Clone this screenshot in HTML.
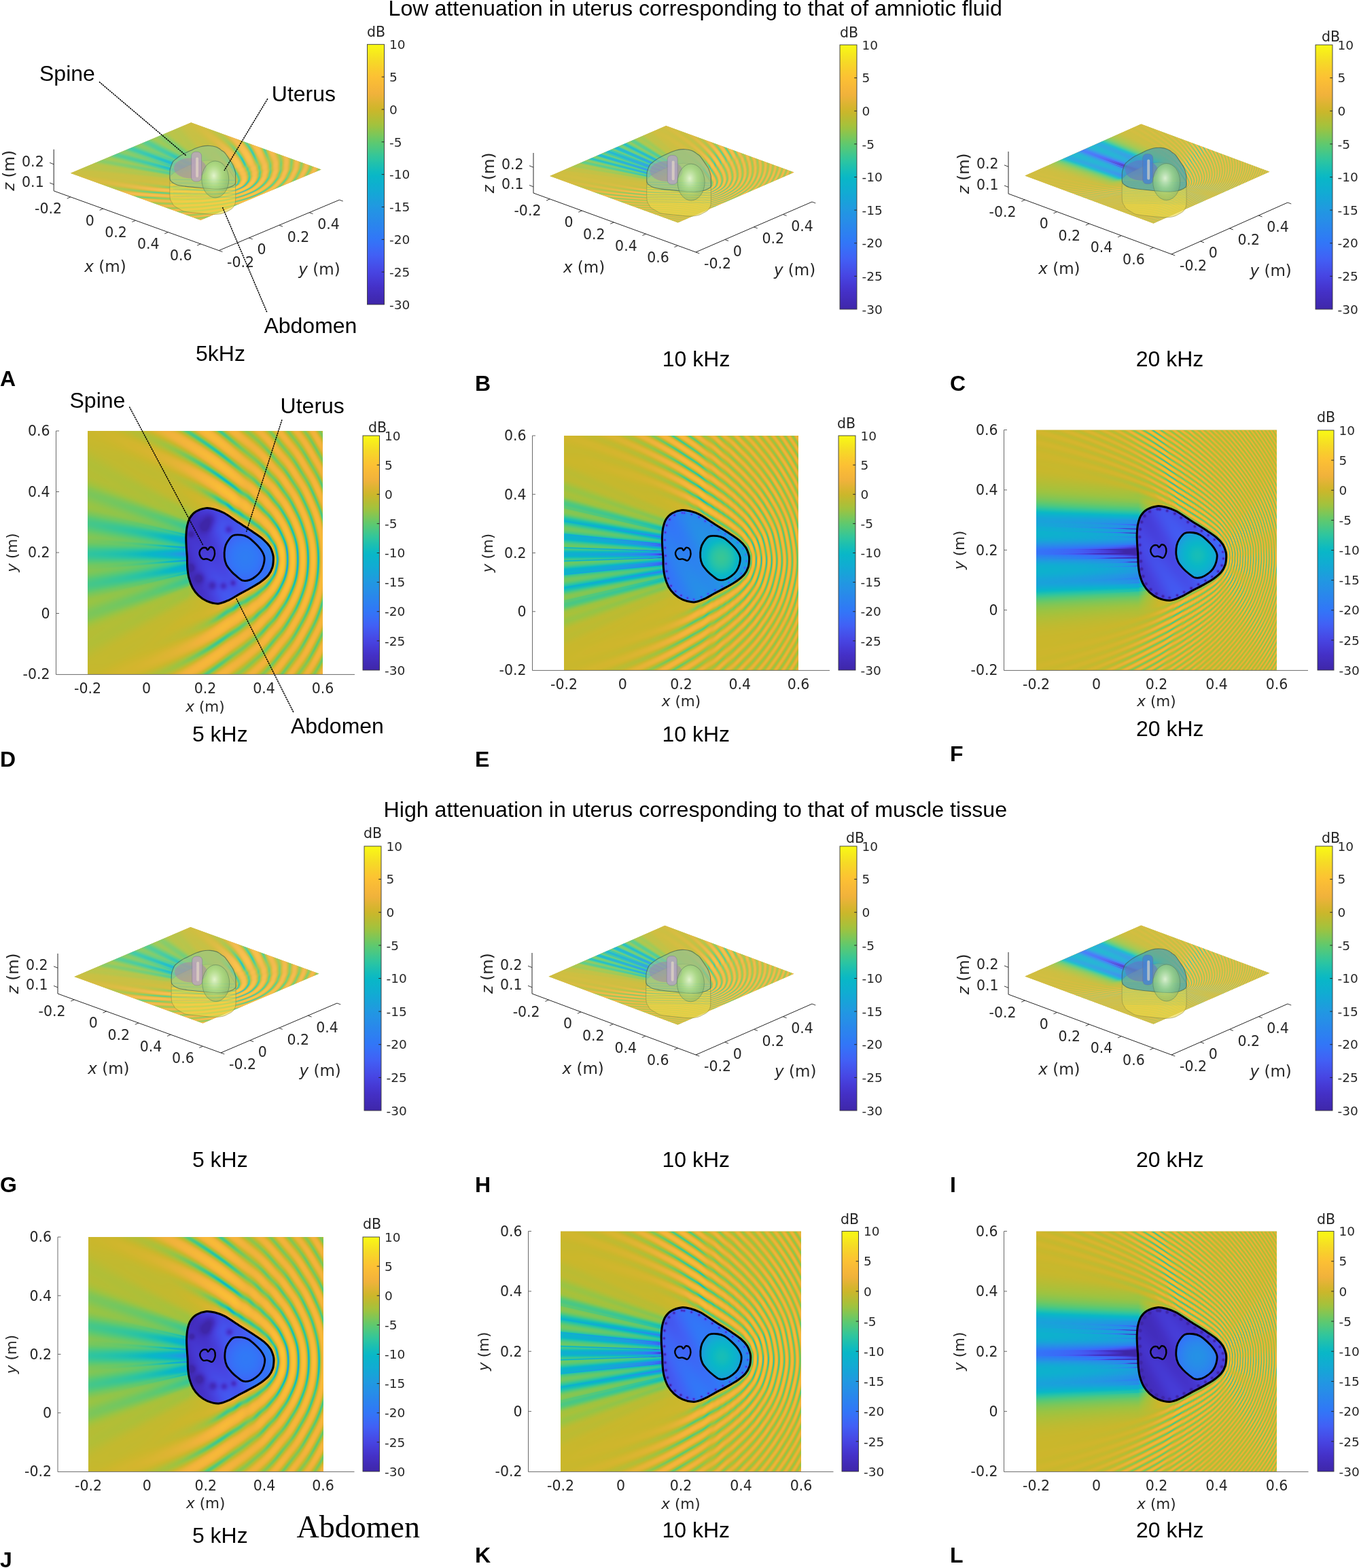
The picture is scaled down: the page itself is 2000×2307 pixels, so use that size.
<!DOCTYPE html>
<html><head><meta charset="utf-8"><title>Figure</title>
<style>
html,body{margin:0;padding:0;background:#fff;}
#wrap{position:relative;width:2000px;height:2307px;overflow:hidden;background:#fff;}
#wrap svg,#wrap canvas{position:absolute;left:0;top:0;}
</style></head><body><div id="wrap">
<svg width="2000" height="2307" viewBox="0 0 2000 2307"><rect x="129.0" y="634.0" width="346.0" height="358.0" fill="#ccb640"/><polygon points="280.4,750.3 129.0,714.5 129.0,902.5 280.4,875.6" fill="#3fb6b0" opacity="0.8"/><path d="M302.99,747.62C307.48,747.07 310.88,747.99 315.36,749.19C319.85,750.38 323.88,751.46 329.90,754.78C335.91,758.10 344.20,764.33 351.43,769.10C358.67,773.87 367.25,779.27 373.32,783.42C379.39,787.57 383.86,790.51 387.85,794.03C391.84,797.54 394.97,800.87 397.28,804.50C399.59,808.13 400.84,812.67 401.69,815.82C402.54,818.97 402.51,820.23 402.38,823.38C402.25,826.53 402.13,830.94 400.91,834.70C399.69,838.47 397.87,842.48 395.07,845.98C392.28,849.49 388.38,852.60 384.13,855.74C379.89,858.87 375.05,861.63 369.60,864.78C364.15,867.92 356.86,871.62 351.43,874.62C346.01,877.63 342.08,880.56 337.03,882.81C331.99,885.06 326.59,887.87 321.16,888.14C315.72,888.40 309.27,886.43 304.42,884.42C299.58,882.41 295.61,879.37 292.10,876.10C288.59,872.82 285.73,869.17 283.36,864.78C280.99,860.38 279.14,854.75 277.87,849.74C276.60,844.73 276.17,839.72 275.75,834.70C275.32,829.68 275.57,824.66 275.31,819.62C275.06,814.59 274.48,809.53 274.23,804.50C273.99,799.46 273.66,794.44 273.84,789.42C274.02,784.40 274.35,779.01 275.31,774.38C276.28,769.75 277.45,765.27 279.64,761.63C281.83,757.98 284.57,754.83 288.46,752.50C292.36,750.16 298.51,748.17 302.99,747.62Z" fill="#3d55e0"/><path d="M342.70,787.98C346.09,786.34 351.39,786.81 355.02,787.18C358.66,787.54 361.22,788.30 364.50,790.18C367.78,792.06 371.43,795.31 374.70,798.46C377.98,801.60 381.75,805.53 384.13,809.06C386.51,812.59 388.36,815.99 388.98,819.62C389.60,823.26 388.77,827.34 387.85,830.86C386.93,834.37 385.38,837.81 383.44,840.70C381.50,843.59 378.89,846.05 376.22,848.17C373.54,850.30 370.56,852.45 367.39,853.45C364.23,854.46 360.37,855.09 357.23,854.21C354.09,853.33 351.33,850.43 348.54,848.17C345.75,845.92 343.05,843.59 340.49,840.70C337.93,837.81 334.88,834.37 333.18,830.86C331.48,827.34 330.64,823.76 330.29,819.62C329.93,815.48 330.33,809.79 331.06,806.02C331.80,802.25 332.76,800.03 334.70,797.02C336.64,794.02 339.31,789.63 342.70,787.98Z" fill="#2f8ef0"/><rect x="830.0" y="641.0" width="345.0" height="345.0" fill="#ccb640"/><polygon points="980.9,753.1 830.0,718.6 830.0,899.8 980.9,873.9" fill="#3fb6b0" opacity="0.8"/><path d="M1003.49,750.49C1007.96,749.96 1011.35,750.85 1015.83,752.00C1020.30,753.15 1024.32,754.20 1030.32,757.39C1036.31,760.59 1044.58,766.59 1051.79,771.19C1059.01,775.79 1067.56,780.99 1073.61,784.99C1079.66,789.00 1084.12,791.83 1088.10,795.21C1092.09,798.60 1095.20,801.81 1097.50,805.31C1099.80,808.81 1101.06,813.18 1101.90,816.22C1102.75,819.25 1102.72,820.47 1102.59,823.50C1102.46,826.54 1102.34,830.79 1101.13,834.42C1099.91,838.05 1098.09,841.90 1095.30,845.28C1092.52,848.66 1088.63,851.67 1084.39,854.68C1080.16,857.70 1075.34,860.36 1069.90,863.40C1064.47,866.43 1057.20,869.99 1051.79,872.88C1046.38,875.78 1042.46,878.60 1037.43,880.77C1032.40,882.95 1027.02,885.65 1021.60,885.91C1016.18,886.17 1009.75,884.26 1004.91,882.33C1000.08,880.39 996.12,877.46 992.62,874.31C989.12,871.15 986.28,867.63 983.91,863.40C981.55,859.16 979.70,853.74 978.44,848.91C977.17,844.08 976.75,839.25 976.32,834.42C975.90,829.58 976.14,824.73 975.89,819.88C975.64,815.03 975.06,810.16 974.81,805.31C974.57,800.45 974.25,795.61 974.43,790.77C974.61,785.94 974.93,780.75 975.89,776.28C976.86,771.82 978.02,767.51 980.20,763.99C982.39,760.48 985.12,757.44 989.00,755.19C992.88,752.95 999.02,751.03 1003.49,750.49Z" fill="#3d55e0"/><path d="M1043.08,789.39C1046.46,787.81 1051.75,788.26 1055.37,788.62C1058.99,788.97 1061.55,789.70 1064.82,791.51C1068.09,793.32 1071.73,796.45 1074.99,799.48C1078.26,802.52 1082.02,806.31 1084.39,809.70C1086.77,813.10 1088.61,816.38 1089.22,819.88C1089.84,823.38 1089.02,827.32 1088.10,830.71C1087.18,834.09 1085.64,837.41 1083.70,840.19C1081.77,842.98 1079.17,845.35 1076.50,847.40C1073.84,849.44 1070.86,851.51 1067.70,852.48C1064.55,853.46 1060.70,854.07 1057.57,853.22C1054.44,852.37 1051.68,849.57 1048.90,847.40C1046.12,845.23 1043.43,842.98 1040.88,840.19C1038.33,837.41 1035.29,834.09 1033.59,830.71C1031.90,827.32 1031.06,823.87 1030.70,819.88C1030.35,815.89 1030.75,810.40 1031.48,806.77C1032.21,803.14 1033.17,801.00 1035.10,798.10C1037.04,795.21 1039.70,790.97 1043.08,789.39Z" fill="#2f8ef0"/><rect x="1525.0" y="632.5" width="354.0" height="353.5" fill="#ccb640"/><polygon points="1679.9,747.4 1525.0,712.0 1525.0,897.6 1679.9,871.1" fill="#3fb6b0" opacity="0.8"/><path d="M1703.02,744.69C1707.61,744.15 1711.09,745.06 1715.67,746.24C1720.26,747.42 1724.39,748.48 1730.54,751.76C1736.69,755.04 1745.17,761.19 1752.58,765.90C1759.98,770.62 1768.76,775.94 1774.97,780.04C1781.18,784.14 1785.75,787.05 1789.84,790.51C1793.92,793.98 1797.12,797.27 1799.48,800.85C1801.84,804.44 1803.13,808.93 1804.00,812.03C1804.87,815.14 1804.84,816.39 1804.70,819.50C1804.57,822.61 1804.45,826.96 1803.20,830.68C1801.95,834.40 1800.09,838.35 1797.23,841.82C1794.36,845.28 1790.37,848.36 1786.03,851.45C1781.69,854.54 1776.74,857.27 1771.16,860.37C1765.59,863.48 1758.13,867.13 1752.58,870.10C1747.02,873.06 1743.00,875.96 1737.84,878.18C1732.68,880.41 1727.16,883.18 1721.60,883.44C1716.04,883.71 1709.43,881.75 1704.48,879.77C1699.52,877.79 1695.46,874.79 1691.87,871.55C1688.28,868.32 1685.35,864.71 1682.93,860.37C1680.50,856.04 1678.61,850.48 1677.31,845.53C1676.01,840.58 1675.58,835.64 1675.14,830.68C1674.71,825.72 1674.96,820.76 1674.70,815.79C1674.44,810.82 1673.84,805.83 1673.59,800.85C1673.34,795.88 1673.01,790.92 1673.19,785.96C1673.38,781.01 1673.71,775.69 1674.70,771.12C1675.69,766.54 1676.88,762.12 1679.12,758.52C1681.36,754.92 1684.17,751.81 1688.15,749.51C1692.13,747.20 1698.43,745.24 1703.02,744.69Z" fill="#3d55e0"/><path d="M1743.64,784.55C1747.11,782.93 1752.53,783.39 1756.25,783.75C1759.97,784.11 1762.59,784.86 1765.94,786.71C1769.30,788.57 1773.04,791.78 1776.38,794.89C1779.73,798.00 1783.60,801.88 1786.03,805.36C1788.46,808.84 1790.35,812.20 1790.99,815.79C1791.62,819.38 1790.78,823.41 1789.84,826.88C1788.89,830.35 1787.31,833.75 1785.32,836.60C1783.34,839.45 1780.67,841.88 1777.93,843.98C1775.20,846.08 1772.14,848.20 1768.91,849.20C1765.67,850.19 1761.72,850.82 1758.51,849.95C1755.29,849.08 1752.47,846.21 1749.61,843.98C1746.76,841.76 1744.00,839.45 1741.38,836.60C1738.76,833.75 1735.64,830.35 1733.90,826.88C1732.16,823.41 1731.30,819.88 1730.94,815.79C1730.58,811.70 1730.98,806.08 1731.74,802.36C1732.49,798.64 1733.47,796.44 1735.45,793.48C1737.44,790.51 1740.17,786.17 1743.64,784.55Z" fill="#2f8ef0"/><rect x="130.0" y="1820.0" width="345.5" height="345.0" fill="#ccb640"/><polygon points="281.2,1932.1 130.0,1897.6 130.0,2078.8 281.2,2052.9" fill="#3fb6b0" opacity="0.8"/><path d="M303.74,1929.49C308.22,1928.96 311.62,1929.85 316.09,1931.00C320.57,1932.15 324.60,1933.20 330.61,1936.39C336.61,1939.59 344.89,1945.59 352.11,1950.19C359.34,1954.79 367.91,1959.99 373.97,1963.99C380.03,1968.00 384.49,1970.83 388.48,1974.21C392.46,1977.60 395.59,1980.81 397.89,1984.31C400.20,1987.81 401.45,1992.18 402.30,1995.22C403.15,1998.25 403.12,1999.47 402.99,2002.50C402.86,2005.54 402.74,2009.79 401.52,2013.42C400.30,2017.05 398.48,2020.90 395.69,2024.28C392.90,2027.66 389.00,2030.67 384.76,2033.68C380.52,2036.70 375.69,2039.36 370.25,2042.40C364.81,2045.43 357.53,2048.99 352.11,2051.88C346.69,2054.78 342.77,2057.60 337.73,2059.78C332.69,2061.95 327.31,2064.65 321.88,2064.91C316.45,2065.17 310.01,2063.26 305.17,2061.33C300.33,2059.39 296.37,2056.46 292.86,2053.31C289.35,2050.15 286.50,2046.63 284.14,2042.40C281.77,2038.16 279.92,2032.74 278.65,2027.91C277.38,2023.08 276.96,2018.25 276.54,2013.42C276.11,2008.58 276.36,2003.73 276.10,1998.88C275.85,1994.03 275.27,1989.16 275.02,1984.31C274.78,1979.45 274.45,1974.61 274.63,1969.77C274.81,1964.94 275.14,1959.75 276.10,1955.28C277.07,1950.82 278.23,1946.51 280.42,1942.99C282.61,1939.48 285.35,1936.44 289.23,1934.19C293.12,1931.95 299.27,1930.03 303.74,1929.49Z" fill="#3d55e0"/><path d="M343.39,1968.39C346.77,1966.81 352.07,1967.26 355.70,1967.62C359.33,1967.97 361.88,1968.69 365.16,1970.51C368.43,1972.32 372.08,1975.45 375.35,1978.48C378.62,1981.52 382.39,1985.31 384.76,1988.70C387.14,1992.10 388.98,1995.38 389.60,1998.88C390.22,2002.38 389.40,2006.32 388.48,2009.71C387.56,2013.09 386.01,2016.41 384.07,2019.19C382.14,2021.98 379.53,2024.35 376.86,2026.40C374.19,2028.44 371.21,2030.51 368.05,2031.48C364.89,2032.46 361.04,2033.07 357.90,2032.22C354.76,2031.37 352.01,2028.57 349.22,2026.40C346.43,2024.23 343.74,2021.98 341.19,2019.19C338.63,2016.41 335.59,2013.09 333.89,2009.71C332.19,2006.32 331.35,2002.87 330.99,1998.88C330.64,1994.89 331.04,1989.40 331.77,1985.77C332.51,1982.14 333.46,1980.00 335.40,1977.10C337.34,1974.21 340.01,1969.97 343.39,1968.39Z" fill="#2f8ef0"/><rect x="825.0" y="1811.5" width="354.0" height="353.5" fill="#ccb640"/><polygon points="979.9,1926.4 825.0,1891.0 825.0,2076.6 979.9,2050.1" fill="#3fb6b0" opacity="0.8"/><path d="M1003.02,1923.69C1007.61,1923.15 1011.09,1924.06 1015.67,1925.24C1020.26,1926.42 1024.39,1927.48 1030.54,1930.76C1036.69,1934.04 1045.17,1940.19 1052.58,1944.90C1059.98,1949.62 1068.76,1954.94 1074.97,1959.04C1081.18,1963.14 1085.75,1966.05 1089.84,1969.51C1093.92,1972.98 1097.12,1976.27 1099.48,1979.85C1101.84,1983.44 1103.13,1987.93 1104.00,1991.03C1104.87,1994.14 1104.84,1995.39 1104.70,1998.50C1104.57,2001.61 1104.45,2005.96 1103.20,2009.68C1101.95,2013.40 1100.09,2017.35 1097.23,2020.82C1094.36,2024.28 1090.37,2027.36 1086.03,2030.45C1081.69,2033.54 1076.74,2036.27 1071.16,2039.37C1065.59,2042.48 1058.13,2046.13 1052.58,2049.10C1047.02,2052.06 1043.00,2054.96 1037.84,2057.18C1032.68,2059.41 1027.16,2062.18 1021.60,2062.44C1016.04,2062.71 1009.43,2060.75 1004.48,2058.77C999.52,2056.79 995.46,2053.79 991.87,2050.55C988.28,2047.32 985.35,2043.71 982.93,2039.37C980.50,2035.04 978.61,2029.48 977.31,2024.53C976.01,2019.58 975.58,2014.64 975.14,2009.68C974.71,2004.72 974.96,1999.76 974.70,1994.79C974.44,1989.82 973.84,1984.83 973.59,1979.85C973.34,1974.88 973.01,1969.92 973.19,1964.96C973.38,1960.01 973.71,1954.69 974.70,1950.12C975.69,1945.54 976.88,1941.12 979.12,1937.52C981.36,1933.92 984.17,1930.81 988.15,1928.51C992.13,1926.20 998.43,1924.24 1003.02,1923.69Z" fill="#3d55e0"/><path d="M1043.64,1963.55C1047.11,1961.93 1052.53,1962.39 1056.25,1962.75C1059.97,1963.11 1062.59,1963.86 1065.94,1965.71C1069.30,1967.57 1073.04,1970.78 1076.38,1973.89C1079.73,1977.00 1083.60,1980.88 1086.03,1984.36C1088.46,1987.84 1090.35,1991.20 1090.99,1994.79C1091.62,1998.38 1090.78,2002.41 1089.84,2005.88C1088.89,2009.35 1087.31,2012.75 1085.32,2015.60C1083.34,2018.45 1080.67,2020.88 1077.93,2022.98C1075.20,2025.08 1072.14,2027.20 1068.91,2028.20C1065.67,2029.19 1061.72,2029.82 1058.51,2028.95C1055.29,2028.08 1052.47,2025.21 1049.61,2022.98C1046.76,2020.76 1044.00,2018.45 1041.38,2015.60C1038.76,2012.75 1035.64,2009.35 1033.90,2005.88C1032.16,2002.41 1031.30,1998.88 1030.94,1994.79C1030.58,1990.70 1030.98,1985.08 1031.74,1981.36C1032.49,1977.64 1033.47,1975.44 1035.45,1972.48C1037.44,1969.51 1040.17,1965.17 1043.64,1963.55Z" fill="#2f8ef0"/><rect x="1525.0" y="1811.5" width="354.0" height="353.5" fill="#ccb640"/><polygon points="1679.9,1926.4 1525.0,1891.0 1525.0,2076.6 1679.9,2050.1" fill="#3fb6b0" opacity="0.8"/><path d="M1703.02,1923.69C1707.61,1923.15 1711.09,1924.06 1715.67,1925.24C1720.26,1926.42 1724.39,1927.48 1730.54,1930.76C1736.69,1934.04 1745.17,1940.19 1752.58,1944.90C1759.98,1949.62 1768.76,1954.94 1774.97,1959.04C1781.18,1963.14 1785.75,1966.05 1789.84,1969.51C1793.92,1972.98 1797.12,1976.27 1799.48,1979.85C1801.84,1983.44 1803.13,1987.93 1804.00,1991.03C1804.87,1994.14 1804.84,1995.39 1804.70,1998.50C1804.57,2001.61 1804.45,2005.96 1803.20,2009.68C1801.95,2013.40 1800.09,2017.35 1797.23,2020.82C1794.36,2024.28 1790.37,2027.36 1786.03,2030.45C1781.69,2033.54 1776.74,2036.27 1771.16,2039.37C1765.59,2042.48 1758.13,2046.13 1752.58,2049.10C1747.02,2052.06 1743.00,2054.96 1737.84,2057.18C1732.68,2059.41 1727.16,2062.18 1721.60,2062.44C1716.04,2062.71 1709.43,2060.75 1704.48,2058.77C1699.52,2056.79 1695.46,2053.79 1691.87,2050.55C1688.28,2047.32 1685.35,2043.71 1682.93,2039.37C1680.50,2035.04 1678.61,2029.48 1677.31,2024.53C1676.01,2019.58 1675.58,2014.64 1675.14,2009.68C1674.71,2004.72 1674.96,1999.76 1674.70,1994.79C1674.44,1989.82 1673.84,1984.83 1673.59,1979.85C1673.34,1974.88 1673.01,1969.92 1673.19,1964.96C1673.38,1960.01 1673.71,1954.69 1674.70,1950.12C1675.69,1945.54 1676.88,1941.12 1679.12,1937.52C1681.36,1933.92 1684.17,1930.81 1688.15,1928.51C1692.13,1926.20 1698.43,1924.24 1703.02,1923.69Z" fill="#3d55e0"/><path d="M1743.64,1963.55C1747.11,1961.93 1752.53,1962.39 1756.25,1962.75C1759.97,1963.11 1762.59,1963.86 1765.94,1965.71C1769.30,1967.57 1773.04,1970.78 1776.38,1973.89C1779.73,1977.00 1783.60,1980.88 1786.03,1984.36C1788.46,1987.84 1790.35,1991.20 1790.99,1994.79C1791.62,1998.38 1790.78,2002.41 1789.84,2005.88C1788.89,2009.35 1787.31,2012.75 1785.32,2015.60C1783.34,2018.45 1780.67,2020.88 1777.93,2022.98C1775.20,2025.08 1772.14,2027.20 1768.91,2028.20C1765.67,2029.19 1761.72,2029.82 1758.51,2028.95C1755.29,2028.08 1752.47,2025.21 1749.61,2022.98C1746.76,2020.76 1744.00,2018.45 1741.38,2015.60C1738.76,2012.75 1735.64,2009.35 1733.90,2005.88C1732.16,2002.41 1731.30,1998.88 1730.94,1994.79C1730.58,1990.70 1730.98,1985.08 1731.74,1981.36C1732.49,1977.64 1733.47,1975.44 1735.45,1972.48C1737.44,1969.51 1740.17,1965.17 1743.64,1963.55Z" fill="#2f8ef0"/><polygon points="103.8,254.8 295.3,323.9 472.7,249.4 281.2,180.3" fill="#d2bf55"/><polygon points="809.2,259.0 997.6,327.6 1168.6,253.6 980.2,185.0" fill="#d2bf55"/><polygon points="1508.3,258.5 1697.5,328.7 1868.5,252.7 1679.3,182.5" fill="#d2bf55"/><polygon points="109.3,1437.0 298.5,1505.6 469.5,1432.6 280.4,1364.0" fill="#d2bf55"/><polygon points="807.5,1436.8 997.4,1507.7 1168.4,1432.7 978.5,1361.8" fill="#d2bf55"/><polygon points="1508.3,1436.5 1697.5,1506.7 1868.5,1431.7 1679.3,1361.5" fill="#d2bf55"/></svg>
<canvas id="cv" width="2000" height="2307"></canvas>
<svg width="2000" height="2307" viewBox="0 0 2000 2307" xmlns="http://www.w3.org/2000/svg">
<defs><linearGradient id="parula" x1="0" y1="0" x2="0" y2="1"><stop offset="0.0000" stop-color="#f8fa14"/><stop offset="0.0159" stop-color="#f8f219"/><stop offset="0.0317" stop-color="#f7ea1d"/><stop offset="0.0476" stop-color="#f6e222"/><stop offset="0.0635" stop-color="#f6da26"/><stop offset="0.0794" stop-color="#f8d32a"/><stop offset="0.0952" stop-color="#f9cc2d"/><stop offset="0.1111" stop-color="#fbc631"/><stop offset="0.1270" stop-color="#fcc034"/><stop offset="0.1429" stop-color="#f9bc36"/><stop offset="0.1587" stop-color="#f7b838"/><stop offset="0.1746" stop-color="#f4b53a"/><stop offset="0.1905" stop-color="#f0b23b"/><stop offset="0.2063" stop-color="#e7b337"/><stop offset="0.2222" stop-color="#ddb432"/><stop offset="0.2381" stop-color="#d4b52d"/><stop offset="0.2540" stop-color="#cab72b"/><stop offset="0.2698" stop-color="#bfba30"/><stop offset="0.2857" stop-color="#b3bd35"/><stop offset="0.3016" stop-color="#a8c13a"/><stop offset="0.3175" stop-color="#9bc342"/><stop offset="0.3333" stop-color="#8ac54e"/><stop offset="0.3492" stop-color="#7ac75a"/><stop offset="0.3651" stop-color="#69c866"/><stop offset="0.3810" stop-color="#5ac973"/><stop offset="0.3968" stop-color="#4ec87f"/><stop offset="0.4127" stop-color="#41c78c"/><stop offset="0.4286" stop-color="#34c699"/><stop offset="0.4444" stop-color="#29c4a4"/><stop offset="0.4603" stop-color="#1fc0ae"/><stop offset="0.4762" stop-color="#16bdb8"/><stop offset="0.4921" stop-color="#0dbac1"/><stop offset="0.5079" stop-color="#09b6c8"/><stop offset="0.5238" stop-color="#0cb3cb"/><stop offset="0.5397" stop-color="#0eafcf"/><stop offset="0.5556" stop-color="#11acd2"/><stop offset="0.5714" stop-color="#14a7d6"/><stop offset="0.5873" stop-color="#18a3d9"/><stop offset="0.6032" stop-color="#1c9edc"/><stop offset="0.6190" stop-color="#209ae0"/><stop offset="0.6349" stop-color="#2295e3"/><stop offset="0.6508" stop-color="#2591e6"/><stop offset="0.6667" stop-color="#278de8"/><stop offset="0.6825" stop-color="#2988eb"/><stop offset="0.6984" stop-color="#2b84ee"/><stop offset="0.7143" stop-color="#2d80f1"/><stop offset="0.7302" stop-color="#2f7bf4"/><stop offset="0.7460" stop-color="#3177f7"/><stop offset="0.7619" stop-color="#3572f7"/><stop offset="0.7778" stop-color="#396cf7"/><stop offset="0.7937" stop-color="#3d66f6"/><stop offset="0.8095" stop-color="#4160f5"/><stop offset="0.8254" stop-color="#4359f1"/><stop offset="0.8413" stop-color="#4453ec"/><stop offset="0.8571" stop-color="#464ce7"/><stop offset="0.8730" stop-color="#4745e3"/><stop offset="0.8889" stop-color="#4640dc"/><stop offset="0.9048" stop-color="#463ad5"/><stop offset="0.9206" stop-color="#4535ce"/><stop offset="0.9365" stop-color="#4430c6"/><stop offset="0.9524" stop-color="#432ebf"/><stop offset="0.9683" stop-color="#412bb7"/><stop offset="0.9841" stop-color="#4029b0"/><stop offset="1.0000" stop-color="#3e26a8"/></linearGradient>
<radialGradient id="ugrad" cx="0.45" cy="0.4" r="0.6"><stop offset="0" stop-color="rgba(235,250,220,0.85)"/><stop offset="0.5" stop-color="rgba(170,225,140,0.6)"/><stop offset="1" stop-color="rgba(120,180,110,0.45)"/></radialGradient>
</defs>
<g><clipPath id="clipA"><path d="M250.03,263.39C250.17,258.24 249.94,260.60 250.83,259.17C251.72,257.74 253.54,256.15 255.38,254.82C257.21,253.48 258.34,252.90 261.84,251.16C265.35,249.42 272.73,246.05 276.40,244.37C280.07,242.69 281.21,242.10 283.87,241.06C286.54,240.02 289.47,238.93 292.39,238.14C295.30,237.34 298.25,236.63 301.36,236.29C304.47,235.96 307.64,235.85 311.05,236.15C314.46,236.45 318.98,237.29 321.82,238.10C324.66,238.90 326.12,239.80 328.07,240.98C330.02,242.16 330.90,241.96 333.50,245.17C336.09,248.38 341.46,256.85 343.63,260.24C345.79,263.63 346.01,263.93 346.50,265.51C346.98,267.08 346.52,264.54 346.52,269.69C346.53,274.84 347.04,290.57 346.52,296.38C346.01,302.20 344.47,302.67 343.45,304.55C342.43,306.43 342.00,306.52 340.41,307.66C338.81,308.80 335.42,310.55 333.88,311.41C332.35,312.26 332.50,312.27 331.19,312.77C329.89,313.28 328.08,313.99 326.05,314.42C324.02,314.86 321.62,315.23 319.00,315.37C316.37,315.51 313.41,315.40 310.29,315.24C307.17,315.09 305.53,314.93 300.27,314.43C295.01,313.92 283.82,312.87 278.70,312.22C273.59,311.58 272.08,311.40 269.57,310.57C267.06,309.75 265.88,308.59 263.63,307.28C261.39,305.97 257.79,304.14 256.10,302.71C254.42,301.28 254.53,300.79 253.52,298.68C252.50,296.58 250.61,295.97 250.03,290.09C249.45,284.21 249.90,268.55 250.03,263.39Z"/></clipPath><path d="M250.03,263.39C250.17,258.24 249.94,260.60 250.83,259.17C251.72,257.74 253.54,256.15 255.38,254.82C257.21,253.48 258.34,252.90 261.84,251.16C265.35,249.42 272.73,246.05 276.40,244.37C280.07,242.69 281.21,242.10 283.87,241.06C286.54,240.02 289.47,238.93 292.39,238.14C295.30,237.34 298.25,236.63 301.36,236.29C304.47,235.96 307.64,235.85 311.05,236.15C314.46,236.45 318.98,237.29 321.82,238.10C324.66,238.90 326.12,239.80 328.07,240.98C330.02,242.16 330.90,241.96 333.50,245.17C336.09,248.38 341.46,256.85 343.63,260.24C345.79,263.63 346.01,263.93 346.50,265.51C346.98,267.08 346.52,264.54 346.52,269.69C346.53,274.84 347.04,290.57 346.52,296.38C346.01,302.20 344.47,302.67 343.45,304.55C342.43,306.43 342.00,306.52 340.41,307.66C338.81,308.80 335.42,310.55 333.88,311.41C332.35,312.26 332.50,312.27 331.19,312.77C329.89,313.28 328.08,313.99 326.05,314.42C324.02,314.86 321.62,315.23 319.00,315.37C316.37,315.51 313.41,315.40 310.29,315.24C307.17,315.09 305.53,314.93 300.27,314.43C295.01,313.92 283.82,312.87 278.70,312.22C273.59,311.58 272.08,311.40 269.57,310.57C267.06,309.75 265.88,308.59 263.63,307.28C261.39,305.97 257.79,304.14 256.10,302.71C254.42,301.28 254.53,300.79 253.52,298.68C252.50,296.58 250.61,295.97 250.03,290.09C249.45,284.21 249.90,268.55 250.03,263.39Z" fill="rgba(238,216,70,0.62)" stroke="rgba(130,125,60,0.5)" stroke-width="1"/><g clip-path="url(#clipA)"><line x1="245.2" y1="264.0" x2="365.2" y2="265.5" stroke="rgba(70,180,170,0.55)" stroke-width="1.3"/><line x1="245.2" y1="269.0" x2="365.2" y2="270.5" stroke="rgba(70,180,170,0.49)" stroke-width="1.3"/><line x1="245.2" y1="274.0" x2="365.2" y2="275.5" stroke="rgba(70,180,170,0.42)" stroke-width="1.3"/><line x1="245.2" y1="279.0" x2="365.2" y2="280.5" stroke="rgba(70,180,170,0.36)" stroke-width="1.3"/><line x1="245.2" y1="284.0" x2="365.2" y2="285.5" stroke="rgba(70,180,170,0.29)" stroke-width="1.3"/><line x1="245.2" y1="289.0" x2="365.2" y2="290.5" stroke="rgba(70,180,170,0.23)" stroke-width="1.3"/></g><path d="M250.03,251.53C250.17,248.85 250.13,249.49 250.83,247.31C251.54,245.12 252.98,240.55 254.26,238.39C255.54,236.23 256.60,235.89 258.50,234.33C260.39,232.78 263.60,230.40 265.62,229.04C267.65,227.69 267.93,227.55 270.65,226.20C273.37,224.85 279.10,222.24 281.95,220.93C284.80,219.62 285.69,219.17 287.76,218.36C289.83,217.55 292.11,216.71 294.37,216.09C296.63,215.47 298.92,214.92 301.34,214.66C303.76,214.40 306.22,214.32 308.86,214.55C311.51,214.78 315.03,215.43 317.23,216.06C319.43,216.68 320.58,217.40 322.08,218.30C323.59,219.19 324.71,220.26 326.25,221.44C327.79,222.61 328.89,222.35 331.31,225.34C333.72,228.33 338.73,236.23 340.75,239.39C342.77,242.55 342.46,241.92 343.42,244.30C344.38,246.67 345.98,251.39 346.50,253.64C347.01,255.90 346.52,255.15 346.52,257.83C346.53,260.50 347.07,267.16 346.52,269.69C345.98,272.22 344.38,272.18 343.26,273.03C342.14,273.87 341.47,274.14 339.79,274.79C338.11,275.44 335.79,276.36 333.18,276.91C330.56,277.47 327.48,277.95 324.09,278.13C320.71,278.30 316.90,278.17 312.88,277.97C308.86,277.77 306.76,277.56 299.98,276.92C293.21,276.27 278.81,274.91 272.22,274.08C265.63,273.25 263.69,273.02 260.45,271.95C257.22,270.89 254.55,269.14 252.81,267.71C251.07,266.29 250.50,266.09 250.03,263.39C249.57,260.70 249.90,254.21 250.03,251.53Z" fill="rgba(150,200,135,0.68)" stroke="rgba(60,90,80,0.65)" stroke-width="1.1"/><ellipse cx="279.9" cy="247.4" rx="24" ry="15" fill="rgba(170,135,165,0.55)"/><rect x="281.6" y="223.4" width="15" height="43.7" rx="6" fill="rgba(190,165,190,0.8)" stroke="rgba(110,110,140,0.5)" stroke-width="0.8"/><rect x="288.1" y="231.4" width="4" height="29.7" rx="2" fill="rgba(235,225,200,0.6)"/><ellipse cx="316.8" cy="263.9" rx="20" ry="27" fill="url(#ugrad)" stroke="rgba(90,130,90,0.55)" stroke-width="1"/><clipPath id="clipB"><path d="M951.96,267.53C952.07,262.53 951.80,264.75 952.63,263.33C953.46,261.91 955.19,260.34 956.95,259.01C958.70,257.68 959.79,257.11 963.16,255.38C966.53,253.65 973.63,250.31 977.17,248.64C980.70,246.96 981.80,246.38 984.37,245.35C986.94,244.31 989.77,243.23 992.59,242.45C995.41,241.66 998.27,240.94 1001.29,240.61C1004.31,240.28 1007.40,240.17 1010.73,240.47C1014.06,240.77 1018.49,241.60 1021.28,242.40C1024.06,243.20 1025.52,244.09 1027.44,245.26C1029.37,246.43 1030.23,246.23 1032.84,249.41C1035.45,252.60 1040.90,261.01 1043.10,264.38C1045.30,267.74 1045.52,268.04 1046.03,269.60C1046.54,271.16 1046.15,268.77 1046.17,273.75C1046.19,278.74 1046.67,293.92 1046.17,299.53C1045.67,305.14 1044.14,305.57 1043.15,307.40C1042.17,309.22 1041.82,309.38 1040.27,310.48C1038.72,311.59 1035.35,313.22 1033.85,314.04C1032.35,314.86 1032.52,314.90 1031.26,315.40C1030.00,315.90 1028.27,316.61 1026.30,317.04C1024.33,317.47 1022.00,317.85 1019.44,317.98C1016.89,318.12 1014.00,318.02 1010.95,317.86C1007.90,317.70 1006.31,317.55 1001.17,317.05C996.02,316.55 985.09,315.51 980.09,314.87C975.09,314.23 973.61,314.05 971.14,313.23C968.67,312.42 967.47,311.24 965.27,309.97C963.08,308.69 959.62,306.99 957.97,305.59C956.32,304.20 956.35,303.64 955.34,301.59C954.34,299.55 952.52,298.98 951.96,293.30C951.39,287.63 951.85,272.52 951.96,267.53Z"/></clipPath><path d="M951.96,267.53C952.07,262.53 951.80,264.75 952.63,263.33C953.46,261.91 955.19,260.34 956.95,259.01C958.70,257.68 959.79,257.11 963.16,255.38C966.53,253.65 973.63,250.31 977.17,248.64C980.70,246.96 981.80,246.38 984.37,245.35C986.94,244.31 989.77,243.23 992.59,242.45C995.41,241.66 998.27,240.94 1001.29,240.61C1004.31,240.28 1007.40,240.17 1010.73,240.47C1014.06,240.77 1018.49,241.60 1021.28,242.40C1024.06,243.20 1025.52,244.09 1027.44,245.26C1029.37,246.43 1030.23,246.23 1032.84,249.41C1035.45,252.60 1040.90,261.01 1043.10,264.38C1045.30,267.74 1045.52,268.04 1046.03,269.60C1046.54,271.16 1046.15,268.77 1046.17,273.75C1046.19,278.74 1046.67,293.92 1046.17,299.53C1045.67,305.14 1044.14,305.57 1043.15,307.40C1042.17,309.22 1041.82,309.38 1040.27,310.48C1038.72,311.59 1035.35,313.22 1033.85,314.04C1032.35,314.86 1032.52,314.90 1031.26,315.40C1030.00,315.90 1028.27,316.61 1026.30,317.04C1024.33,317.47 1022.00,317.85 1019.44,317.98C1016.89,318.12 1014.00,318.02 1010.95,317.86C1007.90,317.70 1006.31,317.55 1001.17,317.05C996.02,316.55 985.09,315.51 980.09,314.87C975.09,314.23 973.61,314.05 971.14,313.23C968.67,312.42 967.47,311.24 965.27,309.97C963.08,308.69 959.62,306.99 957.97,305.59C956.32,304.20 956.35,303.64 955.34,301.59C954.34,299.55 952.52,298.98 951.96,293.30C951.39,287.63 951.85,272.52 951.96,267.53Z" fill="rgba(238,216,70,0.62)" stroke="rgba(130,125,60,0.5)" stroke-width="1"/><g clip-path="url(#clipB)"><line x1="945.6" y1="268.1" x2="1065.6" y2="269.6" stroke="rgba(70,180,170,0.55)" stroke-width="1.3"/><line x1="945.6" y1="271.7" x2="1065.6" y2="273.2" stroke="rgba(70,180,170,0.51)" stroke-width="1.3"/><line x1="945.6" y1="275.3" x2="1065.6" y2="276.8" stroke="rgba(70,180,170,0.46)" stroke-width="1.3"/><line x1="945.6" y1="278.9" x2="1065.6" y2="280.4" stroke="rgba(70,180,170,0.42)" stroke-width="1.3"/><line x1="945.6" y1="282.5" x2="1065.6" y2="284.0" stroke="rgba(70,180,170,0.38)" stroke-width="1.3"/><line x1="945.6" y1="286.1" x2="1065.6" y2="287.6" stroke="rgba(70,180,170,0.34)" stroke-width="1.3"/><line x1="945.6" y1="289.7" x2="1065.6" y2="291.2" stroke="rgba(70,180,170,0.29)" stroke-width="1.3"/><line x1="945.6" y1="293.3" x2="1065.6" y2="294.8" stroke="rgba(70,180,170,0.25)" stroke-width="1.3"/><line x1="945.6" y1="296.9" x2="1065.6" y2="298.4" stroke="rgba(70,180,170,0.21)" stroke-width="1.3"/></g><path d="M951.96,256.07C952.07,253.46 951.96,254.01 952.63,251.88C953.30,249.74 954.74,245.37 955.97,243.27C957.20,241.16 958.16,240.76 959.99,239.24C961.82,237.72 964.99,235.47 966.96,234.15C968.92,232.83 969.16,232.67 971.78,231.32C974.40,229.98 979.92,227.39 982.66,226.09C985.41,224.79 986.26,224.34 988.26,223.53C990.25,222.73 992.45,221.89 994.64,221.28C996.83,220.67 999.05,220.11 1001.40,219.86C1003.75,219.60 1006.14,219.52 1008.73,219.75C1011.32,219.98 1014.76,220.62 1016.92,221.24C1019.09,221.86 1020.25,222.60 1021.71,223.46C1023.18,224.33 1024.20,225.28 1025.70,226.42C1027.20,227.56 1028.30,227.33 1030.73,230.30C1033.16,233.27 1038.24,241.10 1040.29,244.24C1042.34,247.38 1042.07,246.79 1043.03,249.11C1043.98,251.43 1045.51,255.95 1046.03,258.14C1046.56,260.34 1046.15,259.70 1046.17,262.30C1046.19,264.90 1046.68,271.29 1046.17,273.75C1045.65,276.22 1044.14,276.22 1043.07,277.06C1042.00,277.91 1041.36,278.17 1039.74,278.82C1038.12,279.46 1035.88,280.37 1033.34,280.93C1030.81,281.48 1027.82,281.96 1024.52,282.14C1021.23,282.31 1017.51,282.18 1013.59,281.98C1009.66,281.78 1007.61,281.58 1000.99,280.94C994.37,280.30 980.30,278.95 973.85,278.13C967.41,277.31 965.51,277.07 962.33,276.02C959.15,274.97 956.50,273.23 954.78,271.82C953.05,270.40 952.43,270.15 951.96,267.53C951.49,264.90 951.85,258.68 951.96,256.07Z" fill="rgba(140,195,150,0.68)" stroke="rgba(60,90,80,0.65)" stroke-width="1.1"/><ellipse cx="980.6" cy="251.9" rx="24" ry="15" fill="rgba(160,135,170,0.55)"/><rect x="982.2" y="228.6" width="15" height="42.6" rx="6" fill="rgba(180,165,195,0.8)" stroke="rgba(110,110,140,0.5)" stroke-width="0.8"/><rect x="988.7" y="236.6" width="4" height="28.6" rx="2" fill="rgba(235,225,200,0.6)"/><ellipse cx="1017.1" cy="268.0" rx="20" ry="27" fill="url(#ugrad)" stroke="rgba(90,130,90,0.55)" stroke-width="1"/><clipPath id="clipC"><path d="M1651.43,267.11C1651.54,261.88 1651.25,264.27 1652.08,262.81C1652.90,261.36 1654.63,259.74 1656.38,258.38C1658.13,257.02 1659.22,256.42 1662.59,254.65C1665.96,252.87 1673.06,249.44 1676.60,247.73C1680.13,246.01 1681.23,245.41 1683.80,244.35C1686.37,243.29 1689.20,242.18 1692.02,241.37C1694.84,240.55 1697.70,239.82 1700.73,239.48C1703.76,239.14 1706.85,239.02 1710.19,239.33C1713.53,239.63 1717.98,240.48 1720.77,241.29C1723.57,242.11 1725.03,243.02 1726.97,244.22C1728.91,245.42 1729.77,245.21 1732.40,248.48C1735.03,251.74 1740.54,260.36 1742.76,263.81C1744.98,267.26 1745.21,267.56 1745.73,269.16C1746.25,270.76 1745.86,268.20 1745.89,273.42C1745.91,278.64 1746.39,294.61 1745.89,300.51C1745.38,306.40 1743.84,306.89 1742.86,308.80C1741.87,310.71 1741.53,310.80 1739.98,311.96C1738.43,313.12 1735.05,314.90 1733.54,315.76C1732.04,316.63 1732.21,316.65 1730.95,317.16C1729.70,317.67 1727.96,318.40 1725.99,318.84C1724.01,319.29 1721.68,319.67 1719.12,319.81C1716.56,319.95 1713.66,319.85 1710.61,319.69C1707.55,319.54 1705.96,319.38 1700.80,318.87C1695.64,318.37 1684.68,317.30 1679.66,316.65C1674.64,316.00 1673.17,315.82 1670.69,314.98C1668.21,314.15 1666.99,312.97 1664.78,311.64C1662.58,310.31 1659.13,308.47 1657.47,307.01C1655.81,305.56 1655.83,305.05 1654.82,302.92C1653.81,300.78 1651.99,300.17 1651.43,294.20C1650.86,288.23 1651.32,272.34 1651.43,267.11Z"/></clipPath><path d="M1651.43,267.11C1651.54,261.88 1651.25,264.27 1652.08,262.81C1652.90,261.36 1654.63,259.74 1656.38,258.38C1658.13,257.02 1659.22,256.42 1662.59,254.65C1665.96,252.87 1673.06,249.44 1676.60,247.73C1680.13,246.01 1681.23,245.41 1683.80,244.35C1686.37,243.29 1689.20,242.18 1692.02,241.37C1694.84,240.55 1697.70,239.82 1700.73,239.48C1703.76,239.14 1706.85,239.02 1710.19,239.33C1713.53,239.63 1717.98,240.48 1720.77,241.29C1723.57,242.11 1725.03,243.02 1726.97,244.22C1728.91,245.42 1729.77,245.21 1732.40,248.48C1735.03,251.74 1740.54,260.36 1742.76,263.81C1744.98,267.26 1745.21,267.56 1745.73,269.16C1746.25,270.76 1745.86,268.20 1745.89,273.42C1745.91,278.64 1746.39,294.61 1745.89,300.51C1745.38,306.40 1743.84,306.89 1742.86,308.80C1741.87,310.71 1741.53,310.80 1739.98,311.96C1738.43,313.12 1735.05,314.90 1733.54,315.76C1732.04,316.63 1732.21,316.65 1730.95,317.16C1729.70,317.67 1727.96,318.40 1725.99,318.84C1724.01,319.29 1721.68,319.67 1719.12,319.81C1716.56,319.95 1713.66,319.85 1710.61,319.69C1707.55,319.54 1705.96,319.38 1700.80,318.87C1695.64,318.37 1684.68,317.30 1679.66,316.65C1674.64,316.00 1673.17,315.82 1670.69,314.98C1668.21,314.15 1666.99,312.97 1664.78,311.64C1662.58,310.31 1659.13,308.47 1657.47,307.01C1655.81,305.56 1655.83,305.05 1654.82,302.92C1653.81,300.78 1651.99,300.17 1651.43,294.20C1650.86,288.23 1651.32,272.34 1651.43,267.11Z" fill="rgba(238,216,70,0.62)" stroke="rgba(130,125,60,0.5)" stroke-width="1"/><g clip-path="url(#clipC)"><line x1="1645.2" y1="267.6" x2="1765.2" y2="269.1" stroke="rgba(70,180,170,0.55)" stroke-width="0.9"/><line x1="1645.2" y1="270.0" x2="1765.2" y2="271.5" stroke="rgba(70,180,170,0.52)" stroke-width="0.9"/><line x1="1645.2" y1="272.4" x2="1765.2" y2="273.9" stroke="rgba(70,180,170,0.50)" stroke-width="0.9"/><line x1="1645.2" y1="274.8" x2="1765.2" y2="276.3" stroke="rgba(70,180,170,0.47)" stroke-width="0.9"/><line x1="1645.2" y1="277.2" x2="1765.2" y2="278.7" stroke="rgba(70,180,170,0.44)" stroke-width="0.9"/><line x1="1645.2" y1="279.6" x2="1765.2" y2="281.1" stroke="rgba(70,180,170,0.41)" stroke-width="0.9"/><line x1="1645.2" y1="282.0" x2="1765.2" y2="283.5" stroke="rgba(70,180,170,0.39)" stroke-width="0.9"/><line x1="1645.2" y1="284.4" x2="1765.2" y2="285.9" stroke="rgba(70,180,170,0.36)" stroke-width="0.9"/><line x1="1645.2" y1="286.8" x2="1765.2" y2="288.3" stroke="rgba(70,180,170,0.33)" stroke-width="0.9"/><line x1="1645.2" y1="289.2" x2="1765.2" y2="290.7" stroke="rgba(70,180,170,0.30)" stroke-width="0.9"/><line x1="1645.2" y1="291.6" x2="1765.2" y2="293.1" stroke="rgba(70,180,170,0.28)" stroke-width="0.9"/><line x1="1645.2" y1="294.0" x2="1765.2" y2="295.5" stroke="rgba(70,180,170,0.25)" stroke-width="0.9"/><line x1="1645.2" y1="296.4" x2="1765.2" y2="297.9" stroke="rgba(70,180,170,0.22)" stroke-width="0.9"/><line x1="1645.2" y1="298.8" x2="1765.2" y2="300.3" stroke="rgba(70,180,170,0.19)" stroke-width="0.9"/></g><path d="M1651.43,255.07C1651.54,252.35 1651.41,253.00 1652.08,250.77C1652.75,248.55 1654.20,243.92 1655.43,241.72C1656.65,239.53 1657.61,239.18 1659.44,237.59C1661.27,236.01 1664.46,233.60 1666.42,232.22C1668.39,230.84 1668.62,230.70 1671.24,229.32C1673.86,227.94 1679.38,225.28 1682.12,223.94C1684.87,222.61 1685.72,222.14 1687.71,221.32C1689.71,220.50 1691.91,219.63 1694.10,219.00C1696.30,218.37 1698.52,217.80 1700.87,217.54C1703.22,217.28 1705.62,217.19 1708.22,217.42C1710.81,217.66 1714.26,218.32 1716.44,218.95C1718.61,219.58 1719.74,220.29 1721.25,221.22C1722.75,222.15 1723.96,223.34 1725.47,224.53C1726.97,225.72 1727.88,225.34 1730.29,228.36C1732.70,231.39 1737.88,239.44 1739.95,242.65C1742.02,245.87 1741.75,245.23 1742.71,247.64C1743.67,250.05 1745.20,254.83 1745.73,257.12C1746.26,259.41 1745.86,258.66 1745.89,261.38C1745.91,264.10 1746.40,270.85 1745.89,273.42C1745.37,275.99 1743.87,275.95 1742.80,276.82C1741.73,277.68 1741.09,277.95 1739.47,278.61C1737.85,279.28 1735.61,280.21 1733.07,280.78C1730.53,281.35 1727.53,281.85 1724.23,282.03C1720.93,282.21 1717.20,282.08 1713.27,281.88C1709.34,281.68 1707.28,281.47 1700.64,280.82C1694.00,280.17 1679.89,278.80 1673.43,277.96C1666.97,277.13 1665.07,276.89 1661.87,275.81C1658.68,274.74 1656.02,272.96 1654.27,271.51C1652.53,270.06 1651.90,269.85 1651.43,267.11C1650.95,264.37 1651.32,257.80 1651.43,255.07Z" fill="rgba(60,160,185,0.68)" stroke="rgba(60,90,80,0.65)" stroke-width="1.1"/><ellipse cx="1680.1" cy="250.7" rx="24" ry="15" fill="rgba(100,115,200,0.55)"/><rect x="1681.7" y="226.5" width="15" height="44.1" rx="6" fill="rgba(70,130,210,0.8)" stroke="rgba(110,110,140,0.5)" stroke-width="0.8"/><rect x="1688.2" y="234.5" width="4" height="30.1" rx="2" fill="rgba(235,225,200,0.6)"/><ellipse cx="1716.7" cy="267.5" rx="20" ry="27" fill="url(#ugrad)" stroke="rgba(90,130,90,0.55)" stroke-width="1"/><clipPath id="clipG"><path d="M252.43,1445.85C252.54,1440.86 252.25,1443.09 253.08,1441.68C253.90,1440.28 255.63,1438.72 257.38,1437.41C259.13,1436.09 260.22,1435.52 263.59,1433.81C266.96,1432.11 274.06,1428.81 277.60,1427.16C281.13,1425.51 282.23,1424.93 284.80,1423.91C287.37,1422.90 290.20,1421.83 293.02,1421.06C295.84,1420.28 298.70,1419.58 301.73,1419.26C304.76,1418.94 307.85,1418.84 311.19,1419.14C314.53,1419.45 318.98,1420.29 321.77,1421.09C324.57,1421.89 326.03,1422.77 327.97,1423.94C329.91,1425.11 330.77,1424.91 333.40,1428.08C336.03,1431.25 341.54,1439.62 343.76,1442.96C345.98,1446.31 346.21,1446.60 346.73,1448.15C347.25,1449.71 346.86,1447.30 346.89,1452.28C346.91,1457.26 347.39,1472.45 346.89,1478.06C346.38,1483.66 344.84,1484.10 343.86,1485.92C342.87,1487.74 342.53,1487.87 340.98,1488.98C339.43,1490.08 336.05,1491.72 334.54,1492.53C333.04,1493.35 333.21,1493.38 331.95,1493.88C330.70,1494.37 328.96,1495.07 326.99,1495.49C325.01,1495.91 322.68,1496.28 320.12,1496.40C317.56,1496.53 314.66,1496.42 311.61,1496.26C308.55,1496.10 306.96,1495.94 301.80,1495.43C296.64,1494.92 285.68,1493.86 280.66,1493.21C275.64,1492.57 274.17,1492.38 271.69,1491.56C269.21,1490.74 267.99,1489.58 265.78,1488.30C263.58,1487.03 260.13,1485.30 258.47,1483.90C256.81,1482.50 256.83,1481.97 255.82,1479.92C254.81,1477.88 252.99,1477.30 252.43,1471.62C251.86,1465.94 252.32,1450.84 252.43,1445.85Z"/></clipPath><path d="M252.43,1445.85C252.54,1440.86 252.25,1443.09 253.08,1441.68C253.90,1440.28 255.63,1438.72 257.38,1437.41C259.13,1436.09 260.22,1435.52 263.59,1433.81C266.96,1432.11 274.06,1428.81 277.60,1427.16C281.13,1425.51 282.23,1424.93 284.80,1423.91C287.37,1422.90 290.20,1421.83 293.02,1421.06C295.84,1420.28 298.70,1419.58 301.73,1419.26C304.76,1418.94 307.85,1418.84 311.19,1419.14C314.53,1419.45 318.98,1420.29 321.77,1421.09C324.57,1421.89 326.03,1422.77 327.97,1423.94C329.91,1425.11 330.77,1424.91 333.40,1428.08C336.03,1431.25 341.54,1439.62 343.76,1442.96C345.98,1446.31 346.21,1446.60 346.73,1448.15C347.25,1449.71 346.86,1447.30 346.89,1452.28C346.91,1457.26 347.39,1472.45 346.89,1478.06C346.38,1483.66 344.84,1484.10 343.86,1485.92C342.87,1487.74 342.53,1487.87 340.98,1488.98C339.43,1490.08 336.05,1491.72 334.54,1492.53C333.04,1493.35 333.21,1493.38 331.95,1493.88C330.70,1494.37 328.96,1495.07 326.99,1495.49C325.01,1495.91 322.68,1496.28 320.12,1496.40C317.56,1496.53 314.66,1496.42 311.61,1496.26C308.55,1496.10 306.96,1495.94 301.80,1495.43C296.64,1494.92 285.68,1493.86 280.66,1493.21C275.64,1492.57 274.17,1492.38 271.69,1491.56C269.21,1490.74 267.99,1489.58 265.78,1488.30C263.58,1487.03 260.13,1485.30 258.47,1483.90C256.81,1482.50 256.83,1481.97 255.82,1479.92C254.81,1477.88 252.99,1477.30 252.43,1471.62C251.86,1465.94 252.32,1450.84 252.43,1445.85Z" fill="rgba(238,216,70,0.62)" stroke="rgba(130,125,60,0.5)" stroke-width="1"/><g clip-path="url(#clipG)"><line x1="246.2" y1="1446.6" x2="366.2" y2="1448.1" stroke="rgba(70,180,170,0.55)" stroke-width="1.3"/><line x1="246.2" y1="1451.6" x2="366.2" y2="1453.1" stroke="rgba(70,180,170,0.49)" stroke-width="1.3"/><line x1="246.2" y1="1456.6" x2="366.2" y2="1458.1" stroke="rgba(70,180,170,0.42)" stroke-width="1.3"/><line x1="246.2" y1="1461.6" x2="366.2" y2="1463.1" stroke="rgba(70,180,170,0.36)" stroke-width="1.3"/><line x1="246.2" y1="1466.6" x2="366.2" y2="1468.1" stroke="rgba(70,180,170,0.29)" stroke-width="1.3"/><line x1="246.2" y1="1471.6" x2="366.2" y2="1473.1" stroke="rgba(70,180,170,0.23)" stroke-width="1.3"/></g><path d="M252.43,1434.39C252.54,1431.79 252.41,1432.35 253.08,1430.23C253.75,1428.10 255.20,1423.73 256.43,1421.63C257.65,1419.53 258.61,1419.15 260.44,1417.64C262.27,1416.13 265.46,1413.87 267.42,1412.56C269.39,1411.25 269.62,1411.10 272.24,1409.77C274.86,1408.45 280.38,1405.89 283.12,1404.61C285.87,1403.32 286.72,1402.87 288.71,1402.08C290.71,1401.29 292.91,1400.47 295.10,1399.86C297.30,1399.26 299.52,1398.72 301.87,1398.47C304.22,1398.22 306.62,1398.14 309.22,1398.38C311.81,1398.61 315.26,1399.27 317.44,1399.89C319.61,1400.51 320.78,1401.24 322.25,1402.10C323.71,1402.97 324.72,1403.95 326.23,1405.09C327.74,1406.23 328.84,1406.00 331.29,1408.95C333.74,1411.91 338.88,1419.70 340.95,1422.82C343.02,1425.94 342.75,1425.35 343.71,1427.66C344.67,1429.97 346.20,1434.50 346.73,1436.70C347.26,1438.89 346.86,1438.23 346.89,1440.82C346.91,1443.42 347.40,1449.82 346.89,1452.28C346.37,1454.73 344.87,1454.72 343.80,1455.56C342.73,1456.39 342.09,1456.65 340.47,1457.29C338.85,1457.92 336.61,1458.82 334.07,1459.36C331.53,1459.91 328.53,1460.38 325.23,1460.54C321.93,1460.71 318.20,1460.57 314.27,1460.36C310.34,1460.15 308.28,1459.94 301.64,1459.29C295.00,1458.63 280.89,1457.26 274.43,1456.43C267.97,1455.60 266.07,1455.36 262.87,1454.31C259.68,1453.25 257.02,1451.52 255.27,1450.11C253.53,1448.70 252.90,1448.47 252.43,1445.85C251.95,1443.23 252.32,1436.99 252.43,1434.39Z" fill="rgba(150,200,135,0.68)" stroke="rgba(60,90,80,0.65)" stroke-width="1.1"/><ellipse cx="281.1" cy="1430.4" rx="24" ry="15" fill="rgba(170,135,165,0.55)"/><rect x="282.7" y="1407.1" width="15" height="42.6" rx="6" fill="rgba(190,165,190,0.8)" stroke="rgba(110,110,140,0.5)" stroke-width="0.8"/><rect x="289.2" y="1415.1" width="4" height="28.6" rx="2" fill="rgba(235,225,200,0.6)"/><ellipse cx="317.7" cy="1446.5" rx="20" ry="27" fill="url(#ugrad)" stroke="rgba(90,130,90,0.55)" stroke-width="1"/><clipPath id="clipH"><path d="M950.90,1446.05C951.00,1440.96 950.71,1443.21 951.53,1441.76C952.35,1440.31 954.07,1438.70 955.82,1437.35C957.57,1436.00 958.65,1435.42 962.02,1433.66C965.39,1431.91 972.49,1428.52 976.02,1426.82C979.56,1425.13 980.65,1424.53 983.22,1423.49C985.80,1422.44 988.63,1421.35 991.45,1420.55C994.28,1419.76 997.14,1419.04 1000.17,1418.72C1003.21,1418.39 1006.30,1418.29 1009.65,1418.61C1013.00,1418.93 1017.46,1419.80 1020.27,1420.62C1023.08,1421.45 1024.55,1422.37 1026.49,1423.57C1028.44,1424.78 1029.30,1424.58 1031.96,1427.85C1034.61,1431.12 1040.18,1439.75 1042.42,1443.20C1044.67,1446.65 1044.89,1446.96 1045.42,1448.56C1045.95,1450.16 1045.57,1447.73 1045.60,1452.81C1045.63,1457.89 1046.11,1473.32 1045.60,1479.02C1045.10,1484.72 1043.55,1485.15 1042.56,1487.01C1041.58,1488.86 1041.25,1489.03 1039.70,1490.15C1038.14,1491.27 1034.74,1492.90 1033.23,1493.73C1031.72,1494.56 1031.91,1494.60 1030.65,1495.11C1029.39,1495.62 1027.65,1496.34 1025.67,1496.77C1023.70,1497.20 1021.37,1497.57 1018.80,1497.70C1016.23,1497.83 1013.33,1497.71 1010.27,1497.54C1007.21,1497.37 1005.60,1497.20 1000.43,1496.67C995.26,1496.14 984.27,1495.02 979.24,1494.35C974.20,1493.68 972.72,1493.49 970.23,1492.64C967.74,1491.80 966.51,1490.58 964.30,1489.27C962.09,1487.97 958.64,1486.23 956.98,1484.80C955.31,1483.38 955.31,1482.79 954.30,1480.70C953.28,1478.61 951.47,1478.04 950.90,1472.26C950.33,1466.48 950.79,1451.13 950.90,1446.05Z"/></clipPath><path d="M950.90,1446.05C951.00,1440.96 950.71,1443.21 951.53,1441.76C952.35,1440.31 954.07,1438.70 955.82,1437.35C957.57,1436.00 958.65,1435.42 962.02,1433.66C965.39,1431.91 972.49,1428.52 976.02,1426.82C979.56,1425.13 980.65,1424.53 983.22,1423.49C985.80,1422.44 988.63,1421.35 991.45,1420.55C994.28,1419.76 997.14,1419.04 1000.17,1418.72C1003.21,1418.39 1006.30,1418.29 1009.65,1418.61C1013.00,1418.93 1017.46,1419.80 1020.27,1420.62C1023.08,1421.45 1024.55,1422.37 1026.49,1423.57C1028.44,1424.78 1029.30,1424.58 1031.96,1427.85C1034.61,1431.12 1040.18,1439.75 1042.42,1443.20C1044.67,1446.65 1044.89,1446.96 1045.42,1448.56C1045.95,1450.16 1045.57,1447.73 1045.60,1452.81C1045.63,1457.89 1046.11,1473.32 1045.60,1479.02C1045.10,1484.72 1043.55,1485.15 1042.56,1487.01C1041.58,1488.86 1041.25,1489.03 1039.70,1490.15C1038.14,1491.27 1034.74,1492.90 1033.23,1493.73C1031.72,1494.56 1031.91,1494.60 1030.65,1495.11C1029.39,1495.62 1027.65,1496.34 1025.67,1496.77C1023.70,1497.20 1021.37,1497.57 1018.80,1497.70C1016.23,1497.83 1013.33,1497.71 1010.27,1497.54C1007.21,1497.37 1005.60,1497.20 1000.43,1496.67C995.26,1496.14 984.27,1495.02 979.24,1494.35C974.20,1493.68 972.72,1493.49 970.23,1492.64C967.74,1491.80 966.51,1490.58 964.30,1489.27C962.09,1487.97 958.64,1486.23 956.98,1484.80C955.31,1483.38 955.31,1482.79 954.30,1480.70C953.28,1478.61 951.47,1478.04 950.90,1472.26C950.33,1466.48 950.79,1451.13 950.90,1446.05Z" fill="rgba(238,216,70,0.62)" stroke="rgba(130,125,60,0.5)" stroke-width="1"/><g clip-path="url(#clipH)"><line x1="944.8" y1="1446.8" x2="1064.8" y2="1448.3" stroke="rgba(70,180,170,0.55)" stroke-width="1.3"/><line x1="944.8" y1="1450.4" x2="1064.8" y2="1451.9" stroke="rgba(70,180,170,0.51)" stroke-width="1.3"/><line x1="944.8" y1="1454.0" x2="1064.8" y2="1455.5" stroke="rgba(70,180,170,0.46)" stroke-width="1.3"/><line x1="944.8" y1="1457.6" x2="1064.8" y2="1459.1" stroke="rgba(70,180,170,0.42)" stroke-width="1.3"/><line x1="944.8" y1="1461.2" x2="1064.8" y2="1462.7" stroke="rgba(70,180,170,0.38)" stroke-width="1.3"/><line x1="944.8" y1="1464.8" x2="1064.8" y2="1466.3" stroke="rgba(70,180,170,0.34)" stroke-width="1.3"/><line x1="944.8" y1="1468.4" x2="1064.8" y2="1469.9" stroke="rgba(70,180,170,0.29)" stroke-width="1.3"/><line x1="944.8" y1="1472.0" x2="1064.8" y2="1473.5" stroke="rgba(70,180,170,0.25)" stroke-width="1.3"/><line x1="944.8" y1="1475.6" x2="1064.8" y2="1477.1" stroke="rgba(70,180,170,0.21)" stroke-width="1.3"/></g><path d="M950.90,1434.40C951.00,1431.74 950.86,1432.28 951.53,1430.11C952.19,1427.94 953.66,1423.51 954.88,1421.37C956.11,1419.23 957.05,1418.80 958.88,1417.26C960.72,1415.72 963.92,1413.45 965.89,1412.12C967.86,1410.78 968.09,1410.61 970.70,1409.25C973.32,1407.89 978.83,1405.25 981.58,1403.94C984.32,1402.62 985.17,1402.16 987.17,1401.35C989.17,1400.53 991.37,1399.68 993.56,1399.07C995.76,1398.45 997.98,1397.89 1000.34,1397.64C1002.69,1397.39 1005.10,1397.31 1007.70,1397.56C1010.30,1397.80 1013.77,1398.48 1015.95,1399.12C1018.13,1399.76 1019.31,1400.53 1020.78,1401.41C1022.25,1402.30 1023.24,1403.25 1024.76,1404.42C1026.27,1405.58 1027.37,1405.36 1029.85,1408.40C1032.32,1411.45 1037.51,1419.49 1039.60,1422.71C1041.69,1425.93 1041.43,1425.34 1042.40,1427.70C1043.37,1430.07 1044.89,1434.66 1045.42,1436.91C1045.96,1439.15 1045.57,1438.51 1045.60,1441.16C1045.63,1443.81 1046.12,1450.30 1045.60,1452.81C1045.09,1455.31 1043.59,1455.32 1042.53,1456.18C1041.46,1457.04 1040.82,1457.31 1039.20,1457.96C1037.58,1458.61 1035.34,1459.54 1032.80,1460.09C1030.25,1460.65 1027.25,1461.13 1023.95,1461.29C1020.64,1461.46 1016.90,1461.31 1012.96,1461.09C1009.02,1460.87 1006.95,1460.65 1000.29,1459.97C993.64,1459.29 979.49,1457.85 973.01,1456.98C966.53,1456.12 964.62,1455.87 961.41,1454.78C958.21,1453.69 955.53,1451.90 953.77,1450.45C952.02,1448.99 951.38,1448.72 950.90,1446.05C950.42,1443.37 950.79,1437.05 950.90,1434.40Z" fill="rgba(140,195,150,0.68)" stroke="rgba(60,90,80,0.65)" stroke-width="1.1"/><ellipse cx="979.6" cy="1430.1" rx="24" ry="15" fill="rgba(160,135,170,0.55)"/><rect x="981.2" y="1406.6" width="15" height="43.1" rx="6" fill="rgba(180,165,195,0.8)" stroke="rgba(110,110,140,0.5)" stroke-width="0.8"/><rect x="987.7" y="1414.6" width="4" height="29.1" rx="2" fill="rgba(235,225,200,0.6)"/><ellipse cx="1016.4" cy="1446.8" rx="20" ry="27" fill="url(#ugrad)" stroke="rgba(90,130,90,0.55)" stroke-width="1"/><clipPath id="clipI"><path d="M1651.43,1445.43C1651.54,1440.20 1651.25,1442.61 1652.08,1441.16C1652.90,1439.72 1654.63,1438.12 1656.38,1436.77C1658.13,1435.42 1659.22,1434.84 1662.59,1433.08C1665.96,1431.33 1673.06,1427.95 1676.60,1426.25C1680.13,1424.56 1681.23,1423.96 1683.80,1422.91C1686.37,1421.87 1689.20,1420.78 1692.02,1419.98C1694.84,1419.18 1697.70,1418.46 1700.73,1418.13C1703.76,1417.80 1706.85,1417.69 1710.19,1418.00C1713.53,1418.31 1717.98,1419.17 1720.77,1419.98C1723.57,1420.80 1725.03,1421.71 1726.97,1422.90C1728.91,1424.10 1729.77,1423.90 1732.40,1427.15C1735.03,1430.39 1740.54,1438.96 1742.76,1442.39C1744.98,1445.82 1745.21,1446.12 1745.73,1447.72C1746.25,1449.31 1745.86,1446.73 1745.89,1451.94C1745.91,1457.16 1746.39,1473.14 1745.89,1479.03C1745.38,1484.93 1743.84,1485.41 1742.86,1487.32C1741.87,1489.22 1741.53,1489.30 1739.98,1490.45C1738.43,1491.61 1735.05,1493.39 1733.54,1494.25C1732.04,1495.12 1732.21,1495.13 1730.95,1495.63C1729.70,1496.14 1727.96,1496.86 1725.99,1497.29C1724.01,1497.73 1721.68,1498.10 1719.12,1498.24C1716.56,1498.37 1713.66,1498.26 1710.61,1498.10C1707.55,1497.93 1705.96,1497.77 1700.80,1497.25C1695.64,1496.74 1684.68,1495.65 1679.66,1494.99C1674.64,1494.34 1673.17,1494.15 1670.69,1493.31C1668.21,1492.48 1666.99,1491.31 1664.78,1489.97C1662.58,1488.64 1659.13,1486.77 1657.47,1485.32C1655.81,1483.87 1655.83,1483.38 1654.82,1481.25C1653.81,1479.11 1651.99,1478.49 1651.43,1472.52C1650.86,1466.55 1651.32,1450.66 1651.43,1445.43Z"/></clipPath><path d="M1651.43,1445.43C1651.54,1440.20 1651.25,1442.61 1652.08,1441.16C1652.90,1439.72 1654.63,1438.12 1656.38,1436.77C1658.13,1435.42 1659.22,1434.84 1662.59,1433.08C1665.96,1431.33 1673.06,1427.95 1676.60,1426.25C1680.13,1424.56 1681.23,1423.96 1683.80,1422.91C1686.37,1421.87 1689.20,1420.78 1692.02,1419.98C1694.84,1419.18 1697.70,1418.46 1700.73,1418.13C1703.76,1417.80 1706.85,1417.69 1710.19,1418.00C1713.53,1418.31 1717.98,1419.17 1720.77,1419.98C1723.57,1420.80 1725.03,1421.71 1726.97,1422.90C1728.91,1424.10 1729.77,1423.90 1732.40,1427.15C1735.03,1430.39 1740.54,1438.96 1742.76,1442.39C1744.98,1445.82 1745.21,1446.12 1745.73,1447.72C1746.25,1449.31 1745.86,1446.73 1745.89,1451.94C1745.91,1457.16 1746.39,1473.14 1745.89,1479.03C1745.38,1484.93 1743.84,1485.41 1742.86,1487.32C1741.87,1489.22 1741.53,1489.30 1739.98,1490.45C1738.43,1491.61 1735.05,1493.39 1733.54,1494.25C1732.04,1495.12 1732.21,1495.13 1730.95,1495.63C1729.70,1496.14 1727.96,1496.86 1725.99,1497.29C1724.01,1497.73 1721.68,1498.10 1719.12,1498.24C1716.56,1498.37 1713.66,1498.26 1710.61,1498.10C1707.55,1497.93 1705.96,1497.77 1700.80,1497.25C1695.64,1496.74 1684.68,1495.65 1679.66,1494.99C1674.64,1494.34 1673.17,1494.15 1670.69,1493.31C1668.21,1492.48 1666.99,1491.31 1664.78,1489.97C1662.58,1488.64 1659.13,1486.77 1657.47,1485.32C1655.81,1483.87 1655.83,1483.38 1654.82,1481.25C1653.81,1479.11 1651.99,1478.49 1651.43,1472.52C1650.86,1466.55 1651.32,1450.66 1651.43,1445.43Z" fill="rgba(238,216,70,0.62)" stroke="rgba(130,125,60,0.5)" stroke-width="1"/><g clip-path="url(#clipI)"><line x1="1645.2" y1="1446.0" x2="1765.2" y2="1447.5" stroke="rgba(70,180,170,0.55)" stroke-width="0.9"/><line x1="1645.2" y1="1448.4" x2="1765.2" y2="1449.9" stroke="rgba(70,180,170,0.52)" stroke-width="0.9"/><line x1="1645.2" y1="1450.8" x2="1765.2" y2="1452.3" stroke="rgba(70,180,170,0.50)" stroke-width="0.9"/><line x1="1645.2" y1="1453.2" x2="1765.2" y2="1454.7" stroke="rgba(70,180,170,0.47)" stroke-width="0.9"/><line x1="1645.2" y1="1455.6" x2="1765.2" y2="1457.1" stroke="rgba(70,180,170,0.44)" stroke-width="0.9"/><line x1="1645.2" y1="1458.0" x2="1765.2" y2="1459.5" stroke="rgba(70,180,170,0.41)" stroke-width="0.9"/><line x1="1645.2" y1="1460.4" x2="1765.2" y2="1461.9" stroke="rgba(70,180,170,0.39)" stroke-width="0.9"/><line x1="1645.2" y1="1462.8" x2="1765.2" y2="1464.3" stroke="rgba(70,180,170,0.36)" stroke-width="0.9"/><line x1="1645.2" y1="1465.2" x2="1765.2" y2="1466.7" stroke="rgba(70,180,170,0.33)" stroke-width="0.9"/><line x1="1645.2" y1="1467.6" x2="1765.2" y2="1469.1" stroke="rgba(70,180,170,0.30)" stroke-width="0.9"/><line x1="1645.2" y1="1470.0" x2="1765.2" y2="1471.5" stroke="rgba(70,180,170,0.28)" stroke-width="0.9"/><line x1="1645.2" y1="1472.4" x2="1765.2" y2="1473.9" stroke="rgba(70,180,170,0.25)" stroke-width="0.9"/><line x1="1645.2" y1="1474.8" x2="1765.2" y2="1476.3" stroke="rgba(70,180,170,0.22)" stroke-width="0.9"/><line x1="1645.2" y1="1477.2" x2="1765.2" y2="1478.7" stroke="rgba(70,180,170,0.19)" stroke-width="0.9"/></g><path d="M1651.43,1433.39C1651.54,1430.67 1651.41,1431.34 1652.08,1429.12C1652.75,1426.91 1654.20,1422.27 1655.43,1420.08C1656.65,1417.90 1657.61,1417.57 1659.44,1415.99C1661.27,1414.42 1664.46,1412.00 1666.42,1410.63C1668.39,1409.26 1668.62,1409.13 1671.24,1407.77C1673.86,1406.41 1679.38,1403.78 1682.12,1402.46C1684.87,1401.14 1685.72,1400.68 1687.71,1399.87C1689.71,1399.06 1691.91,1398.21 1694.10,1397.59C1696.30,1396.97 1698.52,1396.41 1700.87,1396.15C1703.22,1395.90 1705.62,1395.81 1708.22,1396.05C1710.81,1396.29 1714.26,1396.96 1716.44,1397.59C1718.61,1398.23 1719.74,1398.93 1721.25,1399.86C1722.75,1400.79 1723.96,1401.96 1725.47,1403.16C1726.97,1404.35 1727.88,1404.01 1730.29,1407.02C1732.70,1410.03 1737.88,1418.04 1739.95,1421.23C1742.02,1424.43 1741.75,1423.79 1742.71,1426.19C1743.67,1428.60 1745.20,1433.39 1745.73,1435.68C1746.26,1437.96 1745.86,1437.19 1745.89,1439.91C1745.91,1442.62 1746.40,1449.38 1745.89,1451.94C1745.37,1454.51 1743.87,1454.45 1742.80,1455.31C1741.73,1456.17 1741.09,1456.43 1739.47,1457.09C1737.85,1457.74 1735.61,1458.66 1733.07,1459.22C1730.53,1459.78 1727.53,1460.26 1724.23,1460.44C1720.93,1460.61 1717.20,1460.47 1713.27,1460.26C1709.34,1460.05 1707.28,1459.84 1700.64,1459.17C1694.00,1458.51 1679.89,1457.11 1673.43,1456.26C1666.97,1455.42 1665.07,1455.17 1661.87,1454.10C1658.68,1453.02 1656.02,1451.24 1654.27,1449.80C1652.53,1448.36 1651.90,1448.17 1651.43,1445.43C1650.95,1442.70 1651.32,1436.11 1651.43,1433.39Z" fill="rgba(60,160,185,0.68)" stroke="rgba(60,90,80,0.65)" stroke-width="1.1"/><ellipse cx="1680.1" cy="1429.2" rx="24" ry="15" fill="rgba(100,115,200,0.55)"/><rect x="1681.7" y="1405.0" width="15" height="44.1" rx="6" fill="rgba(70,130,210,0.8)" stroke="rgba(110,110,140,0.5)" stroke-width="0.8"/><rect x="1688.2" y="1413.0" width="4" height="30.1" rx="2" fill="rgba(235,225,200,0.6)"/><ellipse cx="1716.7" cy="1446.0" rx="20" ry="27" fill="url(#ugrad)" stroke="rgba(90,130,90,0.55)" stroke-width="1"/></g>
<g><path d="M302.99,747.62C307.48,747.07 310.88,747.99 315.36,749.19C319.85,750.38 323.88,751.46 329.90,754.78C335.91,758.10 344.20,764.33 351.43,769.10C358.67,773.87 367.25,779.27 373.32,783.42C379.39,787.57 383.86,790.51 387.85,794.03C391.84,797.54 394.97,800.87 397.28,804.50C399.59,808.13 400.84,812.67 401.69,815.82C402.54,818.97 402.51,820.23 402.38,823.38C402.25,826.53 402.13,830.94 400.91,834.70C399.69,838.47 397.87,842.48 395.07,845.98C392.28,849.49 388.38,852.60 384.13,855.74C379.89,858.87 375.05,861.63 369.60,864.78C364.15,867.92 356.86,871.62 351.43,874.62C346.01,877.63 342.08,880.56 337.03,882.81C331.99,885.06 326.59,887.87 321.16,888.14C315.72,888.40 309.27,886.43 304.42,884.42C299.58,882.41 295.61,879.37 292.10,876.10C288.59,872.82 285.73,869.17 283.36,864.78C280.99,860.38 279.14,854.75 277.87,849.74C276.60,844.73 276.17,839.72 275.75,834.70C275.32,829.68 275.57,824.66 275.31,819.62C275.06,814.59 274.48,809.53 274.23,804.50C273.99,799.46 273.66,794.44 273.84,789.42C274.02,784.40 274.35,779.01 275.31,774.38C276.28,769.75 277.45,765.27 279.64,761.63C281.83,757.98 284.57,754.83 288.46,752.50C292.36,750.16 298.51,748.17 302.99,747.62Z" fill="none" stroke="#000" stroke-width="3.0"/><path d="M342.70,787.98C346.09,786.34 351.39,786.81 355.02,787.18C358.66,787.54 361.22,788.30 364.50,790.18C367.78,792.06 371.43,795.31 374.70,798.46C377.98,801.60 381.75,805.53 384.13,809.06C386.51,812.59 388.36,815.99 388.98,819.62C389.60,823.26 388.77,827.34 387.85,830.86C386.93,834.37 385.38,837.81 383.44,840.70C381.50,843.59 378.89,846.05 376.22,848.17C373.54,850.30 370.56,852.45 367.39,853.45C364.23,854.46 360.37,855.09 357.23,854.21C354.09,853.33 351.33,850.43 348.54,848.17C345.75,845.92 343.05,843.59 340.49,840.70C337.93,837.81 334.88,834.37 333.18,830.86C331.48,827.34 330.64,823.76 330.29,819.62C329.93,815.48 330.33,809.79 331.06,806.02C331.80,802.25 332.76,800.03 334.70,797.02C336.64,794.02 339.31,789.63 342.70,787.98Z" fill="none" stroke="#000" stroke-width="2.8"/><path d="M293.48,812.78C293.85,810.76 295.61,807.91 297.20,806.78C298.79,805.65 301.61,805.64 302.99,806.02C304.38,806.40 304.41,809.25 305.50,809.06C306.59,808.88 308.00,805.16 309.53,804.90C311.05,804.64 313.54,805.80 314.63,807.50C315.72,809.19 316.17,812.67 316.06,815.06C315.94,817.45 314.77,820.19 313.94,821.82C313.10,823.44 312.13,824.55 311.04,824.81C309.94,825.08 308.58,823.81 307.36,823.38C306.14,822.95 305.19,822.35 303.73,822.22C302.27,822.09 300.08,823.17 298.63,822.62C297.17,822.07 295.85,820.55 294.99,818.91C294.14,817.27 293.11,814.80 293.48,812.78Z" fill="none" stroke="#000" stroke-width="2.4"/><path d="M1003.49,750.49C1007.96,749.96 1011.35,750.85 1015.83,752.00C1020.30,753.15 1024.32,754.20 1030.32,757.39C1036.31,760.59 1044.58,766.59 1051.79,771.19C1059.01,775.79 1067.56,780.99 1073.61,784.99C1079.66,789.00 1084.12,791.83 1088.10,795.21C1092.09,798.60 1095.20,801.81 1097.50,805.31C1099.80,808.81 1101.06,813.18 1101.90,816.22C1102.75,819.25 1102.72,820.47 1102.59,823.50C1102.46,826.54 1102.34,830.79 1101.13,834.42C1099.91,838.05 1098.09,841.90 1095.30,845.28C1092.52,848.66 1088.63,851.67 1084.39,854.68C1080.16,857.70 1075.34,860.36 1069.90,863.40C1064.47,866.43 1057.20,869.99 1051.79,872.88C1046.38,875.78 1042.46,878.60 1037.43,880.77C1032.40,882.95 1027.02,885.65 1021.60,885.91C1016.18,886.17 1009.75,884.26 1004.91,882.33C1000.08,880.39 996.12,877.46 992.62,874.31C989.12,871.15 986.28,867.63 983.91,863.40C981.55,859.16 979.70,853.74 978.44,848.91C977.17,844.08 976.75,839.25 976.32,834.42C975.90,829.58 976.14,824.73 975.89,819.88C975.64,815.03 975.06,810.16 974.81,805.31C974.57,800.45 974.25,795.61 974.43,790.77C974.61,785.94 974.93,780.75 975.89,776.28C976.86,771.82 978.02,767.51 980.20,763.99C982.39,760.48 985.12,757.44 989.00,755.19C992.88,752.95 999.02,751.03 1003.49,750.49Z" fill="none" stroke="#000" stroke-width="3.0"/><path d="M1043.08,789.39C1046.46,787.81 1051.75,788.26 1055.37,788.62C1058.99,788.97 1061.55,789.70 1064.82,791.51C1068.09,793.32 1071.73,796.45 1074.99,799.48C1078.26,802.52 1082.02,806.31 1084.39,809.70C1086.77,813.10 1088.61,816.38 1089.22,819.88C1089.84,823.38 1089.02,827.32 1088.10,830.71C1087.18,834.09 1085.64,837.41 1083.70,840.19C1081.77,842.98 1079.17,845.35 1076.50,847.40C1073.84,849.44 1070.86,851.51 1067.70,852.48C1064.55,853.46 1060.70,854.07 1057.57,853.22C1054.44,852.37 1051.68,849.57 1048.90,847.40C1046.12,845.23 1043.43,842.98 1040.88,840.19C1038.33,837.41 1035.29,834.09 1033.59,830.71C1031.90,827.32 1031.06,823.87 1030.70,819.88C1030.35,815.89 1030.75,810.40 1031.48,806.77C1032.21,803.14 1033.17,801.00 1035.10,798.10C1037.04,795.21 1039.70,790.97 1043.08,789.39Z" fill="none" stroke="#000" stroke-width="2.8"/><path d="M994.00,813.28C994.37,811.34 996.13,808.59 997.71,807.51C999.29,806.42 1002.11,806.41 1003.49,806.77C1004.87,807.14 1004.91,809.88 1005.99,809.70C1007.08,809.53 1008.49,805.95 1010.00,805.69C1011.52,805.44 1014.01,806.56 1015.09,808.20C1016.18,809.83 1016.63,813.18 1016.52,815.48C1016.40,817.78 1015.24,820.43 1014.40,822.00C1013.57,823.56 1012.61,824.63 1011.51,824.88C1010.42,825.14 1009.06,823.92 1007.85,823.50C1006.63,823.09 1005.68,822.51 1004.23,822.38C1002.77,822.26 1000.59,823.30 999.14,822.77C997.68,822.24 996.37,820.77 995.51,819.19C994.66,817.61 993.64,815.23 994.00,813.28Z" fill="none" stroke="#000" stroke-width="2.4"/><path d="M1703.02,744.69C1707.61,744.15 1711.09,745.06 1715.67,746.24C1720.26,747.42 1724.39,748.48 1730.54,751.76C1736.69,755.04 1745.17,761.19 1752.58,765.90C1759.98,770.62 1768.76,775.94 1774.97,780.04C1781.18,784.14 1785.75,787.05 1789.84,790.51C1793.92,793.98 1797.12,797.27 1799.48,800.85C1801.84,804.44 1803.13,808.93 1804.00,812.03C1804.87,815.14 1804.84,816.39 1804.70,819.50C1804.57,822.61 1804.45,826.96 1803.20,830.68C1801.95,834.40 1800.09,838.35 1797.23,841.82C1794.36,845.28 1790.37,848.36 1786.03,851.45C1781.69,854.54 1776.74,857.27 1771.16,860.37C1765.59,863.48 1758.13,867.13 1752.58,870.10C1747.02,873.06 1743.00,875.96 1737.84,878.18C1732.68,880.41 1727.16,883.18 1721.60,883.44C1716.04,883.71 1709.43,881.75 1704.48,879.77C1699.52,877.79 1695.46,874.79 1691.87,871.55C1688.28,868.32 1685.35,864.71 1682.93,860.37C1680.50,856.04 1678.61,850.48 1677.31,845.53C1676.01,840.58 1675.58,835.64 1675.14,830.68C1674.71,825.72 1674.96,820.76 1674.70,815.79C1674.44,810.82 1673.84,805.83 1673.59,800.85C1673.34,795.88 1673.01,790.92 1673.19,785.96C1673.38,781.01 1673.71,775.69 1674.70,771.12C1675.69,766.54 1676.88,762.12 1679.12,758.52C1681.36,754.92 1684.17,751.81 1688.15,749.51C1692.13,747.20 1698.43,745.24 1703.02,744.69Z" fill="none" stroke="#000" stroke-width="3.0"/><path d="M1743.64,784.55C1747.11,782.93 1752.53,783.39 1756.25,783.75C1759.97,784.11 1762.59,784.86 1765.94,786.71C1769.30,788.57 1773.04,791.78 1776.38,794.89C1779.73,798.00 1783.60,801.88 1786.03,805.36C1788.46,808.84 1790.35,812.20 1790.99,815.79C1791.62,819.38 1790.78,823.41 1789.84,826.88C1788.89,830.35 1787.31,833.75 1785.32,836.60C1783.34,839.45 1780.67,841.88 1777.93,843.98C1775.20,846.08 1772.14,848.20 1768.91,849.20C1765.67,850.19 1761.72,850.82 1758.51,849.95C1755.29,849.08 1752.47,846.21 1749.61,843.98C1746.76,841.76 1744.00,839.45 1741.38,836.60C1738.76,833.75 1735.64,830.35 1733.90,826.88C1732.16,823.41 1731.30,819.88 1730.94,815.79C1730.58,811.70 1730.98,806.08 1731.74,802.36C1732.49,798.64 1733.47,796.44 1735.45,793.48C1737.44,790.51 1740.17,786.17 1743.64,784.55Z" fill="none" stroke="#000" stroke-width="2.8"/><path d="M1693.28,809.03C1693.66,807.03 1695.47,804.22 1697.09,803.11C1698.71,802.00 1701.60,801.98 1703.02,802.36C1704.43,802.73 1704.47,805.55 1705.58,805.36C1706.70,805.18 1708.14,801.51 1709.70,801.25C1711.26,800.99 1713.81,802.14 1714.92,803.81C1716.03,805.49 1716.50,808.93 1716.38,811.28C1716.26,813.64 1715.07,816.35 1714.21,817.95C1713.36,819.56 1712.37,820.66 1711.25,820.92C1710.13,821.17 1708.73,819.93 1707.49,819.50C1706.24,819.07 1705.26,818.48 1703.77,818.35C1702.28,818.23 1700.04,819.30 1698.55,818.75C1697.06,818.21 1695.71,816.70 1694.83,815.08C1693.95,813.46 1692.91,811.02 1693.28,809.03Z" fill="none" stroke="#000" stroke-width="2.4"/><path d="M303.74,1929.49C308.22,1928.96 311.62,1929.85 316.09,1931.00C320.57,1932.15 324.60,1933.20 330.61,1936.39C336.61,1939.59 344.89,1945.59 352.11,1950.19C359.34,1954.79 367.91,1959.99 373.97,1963.99C380.03,1968.00 384.49,1970.83 388.48,1974.21C392.46,1977.60 395.59,1980.81 397.89,1984.31C400.20,1987.81 401.45,1992.18 402.30,1995.22C403.15,1998.25 403.12,1999.47 402.99,2002.50C402.86,2005.54 402.74,2009.79 401.52,2013.42C400.30,2017.05 398.48,2020.90 395.69,2024.28C392.90,2027.66 389.00,2030.67 384.76,2033.68C380.52,2036.70 375.69,2039.36 370.25,2042.40C364.81,2045.43 357.53,2048.99 352.11,2051.88C346.69,2054.78 342.77,2057.60 337.73,2059.78C332.69,2061.95 327.31,2064.65 321.88,2064.91C316.45,2065.17 310.01,2063.26 305.17,2061.33C300.33,2059.39 296.37,2056.46 292.86,2053.31C289.35,2050.15 286.50,2046.63 284.14,2042.40C281.77,2038.16 279.92,2032.74 278.65,2027.91C277.38,2023.08 276.96,2018.25 276.54,2013.42C276.11,2008.58 276.36,2003.73 276.10,1998.88C275.85,1994.03 275.27,1989.16 275.02,1984.31C274.78,1979.45 274.45,1974.61 274.63,1969.77C274.81,1964.94 275.14,1959.75 276.10,1955.28C277.07,1950.82 278.23,1946.51 280.42,1942.99C282.61,1939.48 285.35,1936.44 289.23,1934.19C293.12,1931.95 299.27,1930.03 303.74,1929.49Z" fill="none" stroke="#000" stroke-width="3.0"/><path d="M343.39,1968.39C346.77,1966.81 352.07,1967.26 355.70,1967.62C359.33,1967.97 361.88,1968.69 365.16,1970.51C368.43,1972.32 372.08,1975.45 375.35,1978.48C378.62,1981.52 382.39,1985.31 384.76,1988.70C387.14,1992.10 388.98,1995.38 389.60,1998.88C390.22,2002.38 389.40,2006.32 388.48,2009.71C387.56,2013.09 386.01,2016.41 384.07,2019.19C382.14,2021.98 379.53,2024.35 376.86,2026.40C374.19,2028.44 371.21,2030.51 368.05,2031.48C364.89,2032.46 361.04,2033.07 357.90,2032.22C354.76,2031.37 352.01,2028.57 349.22,2026.40C346.43,2024.23 343.74,2021.98 341.19,2019.19C338.63,2016.41 335.59,2013.09 333.89,2009.71C332.19,2006.32 331.35,2002.87 330.99,1998.88C330.64,1994.89 331.04,1989.40 331.77,1985.77C332.51,1982.14 333.46,1980.00 335.40,1977.10C337.34,1974.21 340.01,1969.97 343.39,1968.39Z" fill="none" stroke="#000" stroke-width="2.8"/><path d="M294.24,1992.28C294.61,1990.34 296.37,1987.59 297.96,1986.51C299.54,1985.42 302.36,1985.41 303.74,1985.77C305.13,1986.14 305.16,1988.88 306.25,1988.70C307.34,1988.53 308.75,1984.95 310.26,1984.69C311.78,1984.44 314.27,1985.56 315.36,1987.20C316.45,1988.83 316.90,1992.18 316.79,1994.48C316.67,1996.78 315.50,1999.43 314.67,2001.00C313.83,2002.56 312.87,2003.63 311.78,2003.88C310.68,2004.14 309.32,2002.92 308.11,2002.50C306.89,2002.09 305.93,2001.51 304.48,2001.38C303.02,2001.26 300.84,2002.30 299.38,2001.77C297.93,2001.24 296.61,1999.77 295.75,1998.19C294.90,1996.61 293.87,1994.23 294.24,1992.28Z" fill="none" stroke="#000" stroke-width="2.4"/><path d="M1003.02,1923.69C1007.61,1923.15 1011.09,1924.06 1015.67,1925.24C1020.26,1926.42 1024.39,1927.48 1030.54,1930.76C1036.69,1934.04 1045.17,1940.19 1052.58,1944.90C1059.98,1949.62 1068.76,1954.94 1074.97,1959.04C1081.18,1963.14 1085.75,1966.05 1089.84,1969.51C1093.92,1972.98 1097.12,1976.27 1099.48,1979.85C1101.84,1983.44 1103.13,1987.93 1104.00,1991.03C1104.87,1994.14 1104.84,1995.39 1104.70,1998.50C1104.57,2001.61 1104.45,2005.96 1103.20,2009.68C1101.95,2013.40 1100.09,2017.35 1097.23,2020.82C1094.36,2024.28 1090.37,2027.36 1086.03,2030.45C1081.69,2033.54 1076.74,2036.27 1071.16,2039.37C1065.59,2042.48 1058.13,2046.13 1052.58,2049.10C1047.02,2052.06 1043.00,2054.96 1037.84,2057.18C1032.68,2059.41 1027.16,2062.18 1021.60,2062.44C1016.04,2062.71 1009.43,2060.75 1004.48,2058.77C999.52,2056.79 995.46,2053.79 991.87,2050.55C988.28,2047.32 985.35,2043.71 982.93,2039.37C980.50,2035.04 978.61,2029.48 977.31,2024.53C976.01,2019.58 975.58,2014.64 975.14,2009.68C974.71,2004.72 974.96,1999.76 974.70,1994.79C974.44,1989.82 973.84,1984.83 973.59,1979.85C973.34,1974.88 973.01,1969.92 973.19,1964.96C973.38,1960.01 973.71,1954.69 974.70,1950.12C975.69,1945.54 976.88,1941.12 979.12,1937.52C981.36,1933.92 984.17,1930.81 988.15,1928.51C992.13,1926.20 998.43,1924.24 1003.02,1923.69Z" fill="none" stroke="#000" stroke-width="3.0"/><path d="M1043.64,1963.55C1047.11,1961.93 1052.53,1962.39 1056.25,1962.75C1059.97,1963.11 1062.59,1963.86 1065.94,1965.71C1069.30,1967.57 1073.04,1970.78 1076.38,1973.89C1079.73,1977.00 1083.60,1980.88 1086.03,1984.36C1088.46,1987.84 1090.35,1991.20 1090.99,1994.79C1091.62,1998.38 1090.78,2002.41 1089.84,2005.88C1088.89,2009.35 1087.31,2012.75 1085.32,2015.60C1083.34,2018.45 1080.67,2020.88 1077.93,2022.98C1075.20,2025.08 1072.14,2027.20 1068.91,2028.20C1065.67,2029.19 1061.72,2029.82 1058.51,2028.95C1055.29,2028.08 1052.47,2025.21 1049.61,2022.98C1046.76,2020.76 1044.00,2018.45 1041.38,2015.60C1038.76,2012.75 1035.64,2009.35 1033.90,2005.88C1032.16,2002.41 1031.30,1998.88 1030.94,1994.79C1030.58,1990.70 1030.98,1985.08 1031.74,1981.36C1032.49,1977.64 1033.47,1975.44 1035.45,1972.48C1037.44,1969.51 1040.17,1965.17 1043.64,1963.55Z" fill="none" stroke="#000" stroke-width="2.8"/><path d="M993.28,1988.03C993.66,1986.03 995.47,1983.22 997.09,1982.11C998.71,1981.00 1001.60,1980.98 1003.02,1981.36C1004.43,1981.73 1004.47,1984.55 1005.58,1984.36C1006.70,1984.18 1008.14,1980.51 1009.70,1980.25C1011.26,1979.99 1013.81,1981.14 1014.92,1982.81C1016.03,1984.49 1016.50,1987.93 1016.38,1990.28C1016.26,1992.64 1015.07,1995.35 1014.21,1996.95C1013.36,1998.56 1012.37,1999.66 1011.25,1999.92C1010.13,2000.17 1008.73,1998.93 1007.49,1998.50C1006.24,1998.07 1005.26,1997.48 1003.77,1997.35C1002.28,1997.23 1000.04,1998.30 998.55,1997.75C997.06,1997.21 995.71,1995.70 994.83,1994.08C993.95,1992.46 992.91,1990.02 993.28,1988.03Z" fill="none" stroke="#000" stroke-width="2.4"/><path d="M1703.02,1923.69C1707.61,1923.15 1711.09,1924.06 1715.67,1925.24C1720.26,1926.42 1724.39,1927.48 1730.54,1930.76C1736.69,1934.04 1745.17,1940.19 1752.58,1944.90C1759.98,1949.62 1768.76,1954.94 1774.97,1959.04C1781.18,1963.14 1785.75,1966.05 1789.84,1969.51C1793.92,1972.98 1797.12,1976.27 1799.48,1979.85C1801.84,1983.44 1803.13,1987.93 1804.00,1991.03C1804.87,1994.14 1804.84,1995.39 1804.70,1998.50C1804.57,2001.61 1804.45,2005.96 1803.20,2009.68C1801.95,2013.40 1800.09,2017.35 1797.23,2020.82C1794.36,2024.28 1790.37,2027.36 1786.03,2030.45C1781.69,2033.54 1776.74,2036.27 1771.16,2039.37C1765.59,2042.48 1758.13,2046.13 1752.58,2049.10C1747.02,2052.06 1743.00,2054.96 1737.84,2057.18C1732.68,2059.41 1727.16,2062.18 1721.60,2062.44C1716.04,2062.71 1709.43,2060.75 1704.48,2058.77C1699.52,2056.79 1695.46,2053.79 1691.87,2050.55C1688.28,2047.32 1685.35,2043.71 1682.93,2039.37C1680.50,2035.04 1678.61,2029.48 1677.31,2024.53C1676.01,2019.58 1675.58,2014.64 1675.14,2009.68C1674.71,2004.72 1674.96,1999.76 1674.70,1994.79C1674.44,1989.82 1673.84,1984.83 1673.59,1979.85C1673.34,1974.88 1673.01,1969.92 1673.19,1964.96C1673.38,1960.01 1673.71,1954.69 1674.70,1950.12C1675.69,1945.54 1676.88,1941.12 1679.12,1937.52C1681.36,1933.92 1684.17,1930.81 1688.15,1928.51C1692.13,1926.20 1698.43,1924.24 1703.02,1923.69Z" fill="none" stroke="#000" stroke-width="3.0"/><path d="M1743.64,1963.55C1747.11,1961.93 1752.53,1962.39 1756.25,1962.75C1759.97,1963.11 1762.59,1963.86 1765.94,1965.71C1769.30,1967.57 1773.04,1970.78 1776.38,1973.89C1779.73,1977.00 1783.60,1980.88 1786.03,1984.36C1788.46,1987.84 1790.35,1991.20 1790.99,1994.79C1791.62,1998.38 1790.78,2002.41 1789.84,2005.88C1788.89,2009.35 1787.31,2012.75 1785.32,2015.60C1783.34,2018.45 1780.67,2020.88 1777.93,2022.98C1775.20,2025.08 1772.14,2027.20 1768.91,2028.20C1765.67,2029.19 1761.72,2029.82 1758.51,2028.95C1755.29,2028.08 1752.47,2025.21 1749.61,2022.98C1746.76,2020.76 1744.00,2018.45 1741.38,2015.60C1738.76,2012.75 1735.64,2009.35 1733.90,2005.88C1732.16,2002.41 1731.30,1998.88 1730.94,1994.79C1730.58,1990.70 1730.98,1985.08 1731.74,1981.36C1732.49,1977.64 1733.47,1975.44 1735.45,1972.48C1737.44,1969.51 1740.17,1965.17 1743.64,1963.55Z" fill="none" stroke="#000" stroke-width="2.8"/><path d="M1693.28,1988.03C1693.66,1986.03 1695.47,1983.22 1697.09,1982.11C1698.71,1981.00 1701.60,1980.98 1703.02,1981.36C1704.43,1981.73 1704.47,1984.55 1705.58,1984.36C1706.70,1984.18 1708.14,1980.51 1709.70,1980.25C1711.26,1979.99 1713.81,1981.14 1714.92,1982.81C1716.03,1984.49 1716.50,1987.93 1716.38,1990.28C1716.26,1992.64 1715.07,1995.35 1714.21,1996.95C1713.36,1998.56 1712.37,1999.66 1711.25,1999.92C1710.13,2000.17 1708.73,1998.93 1707.49,1998.50C1706.24,1998.07 1705.26,1997.48 1703.77,1997.35C1702.28,1997.23 1700.04,1998.30 1698.55,1997.75C1697.06,1997.21 1695.71,1995.70 1694.83,1994.08C1693.95,1992.46 1692.91,1990.02 1693.28,1988.03Z" fill="none" stroke="#000" stroke-width="2.4"/></g>
<g><line x1="82.50" y1="634.00" x2="82.50" y2="992.50" stroke="#6a6a6a" stroke-width="1.00"/><line x1="82.50" y1="992.40" x2="522.00" y2="992.40" stroke="#6a6a6a" stroke-width="1.00"/><line x1="82.50" y1="634.00" x2="87.00" y2="634.00" stroke="#6a6a6a" stroke-width="1.00"/><text x="73.50" y="641.47" font-size="20.50" font-family="'DejaVu Sans', sans-serif" text-anchor="end" fill="#262626">0.6</text><line x1="82.50" y1="723.50" x2="87.00" y2="723.50" stroke="#6a6a6a" stroke-width="1.00"/><text x="73.50" y="730.97" font-size="20.50" font-family="'DejaVu Sans', sans-serif" text-anchor="end" fill="#262626">0.4</text><line x1="82.50" y1="813.00" x2="87.00" y2="813.00" stroke="#6a6a6a" stroke-width="1.00"/><text x="73.50" y="820.47" font-size="20.50" font-family="'DejaVu Sans', sans-serif" text-anchor="end" fill="#262626">0.2</text><line x1="82.50" y1="902.50" x2="87.00" y2="902.50" stroke="#6a6a6a" stroke-width="1.00"/><text x="73.50" y="909.97" font-size="20.50" font-family="'DejaVu Sans', sans-serif" text-anchor="end" fill="#262626">0</text><text x="73.50" y="999.47" font-size="20.50" font-family="'DejaVu Sans', sans-serif" text-anchor="end" fill="#262626">-0.2</text><text x="129.00" y="1020.00" font-size="20.50" font-family="'DejaVu Sans', sans-serif" text-anchor="middle" fill="#262626">-0.2</text><text x="215.50" y="1020.00" font-size="20.50" font-family="'DejaVu Sans', sans-serif" text-anchor="middle" fill="#262626">0</text><text x="302.00" y="1020.00" font-size="20.50" font-family="'DejaVu Sans', sans-serif" text-anchor="middle" fill="#262626">0.2</text><text x="388.50" y="1020.00" font-size="20.50" font-family="'DejaVu Sans', sans-serif" text-anchor="middle" fill="#262626">0.4</text><text x="475.00" y="1020.00" font-size="20.50" font-family="'DejaVu Sans', sans-serif" text-anchor="middle" fill="#262626">0.6</text><text x="302.00" y="1046.70" font-size="21.50" font-family="'DejaVu Sans', sans-serif" text-anchor="middle" fill="#262626"><tspan font-style="oblique">x</tspan> (m)</text><text transform="translate(24.50,813.00) rotate(-90)" x="0" y="0" font-size="21.50" font-family="'DejaVu Sans', sans-serif" text-anchor="middle" fill="#262626"><tspan font-style="oblique">y</tspan> (m)</text><line x1="783.50" y1="641.00" x2="783.50" y2="986.50" stroke="#6a6a6a" stroke-width="1.00"/><line x1="783.50" y1="986.40" x2="1221.00" y2="986.40" stroke="#6a6a6a" stroke-width="1.00"/><line x1="783.50" y1="641.00" x2="788.00" y2="641.00" stroke="#6a6a6a" stroke-width="1.00"/><text x="774.50" y="648.47" font-size="20.50" font-family="'DejaVu Sans', sans-serif" text-anchor="end" fill="#262626">0.6</text><line x1="783.50" y1="727.25" x2="788.00" y2="727.25" stroke="#6a6a6a" stroke-width="1.00"/><text x="774.50" y="734.72" font-size="20.50" font-family="'DejaVu Sans', sans-serif" text-anchor="end" fill="#262626">0.4</text><line x1="783.50" y1="813.50" x2="788.00" y2="813.50" stroke="#6a6a6a" stroke-width="1.00"/><text x="774.50" y="820.97" font-size="20.50" font-family="'DejaVu Sans', sans-serif" text-anchor="end" fill="#262626">0.2</text><line x1="783.50" y1="899.75" x2="788.00" y2="899.75" stroke="#6a6a6a" stroke-width="1.00"/><text x="774.50" y="907.22" font-size="20.50" font-family="'DejaVu Sans', sans-serif" text-anchor="end" fill="#262626">0</text><text x="774.50" y="993.47" font-size="20.50" font-family="'DejaVu Sans', sans-serif" text-anchor="end" fill="#262626">-0.2</text><text x="830.00" y="1013.50" font-size="20.50" font-family="'DejaVu Sans', sans-serif" text-anchor="middle" fill="#262626">-0.2</text><text x="916.25" y="1013.50" font-size="20.50" font-family="'DejaVu Sans', sans-serif" text-anchor="middle" fill="#262626">0</text><text x="1002.50" y="1013.50" font-size="20.50" font-family="'DejaVu Sans', sans-serif" text-anchor="middle" fill="#262626">0.2</text><text x="1088.75" y="1013.50" font-size="20.50" font-family="'DejaVu Sans', sans-serif" text-anchor="middle" fill="#262626">0.4</text><text x="1175.00" y="1013.50" font-size="20.50" font-family="'DejaVu Sans', sans-serif" text-anchor="middle" fill="#262626">0.6</text><text x="1002.50" y="1038.70" font-size="21.50" font-family="'DejaVu Sans', sans-serif" text-anchor="middle" fill="#262626"><tspan font-style="oblique">x</tspan> (m)</text><text transform="translate(724.50,813.50) rotate(-90)" x="0" y="0" font-size="21.50" font-family="'DejaVu Sans', sans-serif" text-anchor="middle" fill="#262626"><tspan font-style="oblique">y</tspan> (m)</text><line x1="1477.50" y1="632.50" x2="1477.50" y2="986.50" stroke="#6a6a6a" stroke-width="1.00"/><line x1="1477.50" y1="986.40" x2="1925.00" y2="986.40" stroke="#6a6a6a" stroke-width="1.00"/><line x1="1477.50" y1="632.50" x2="1482.00" y2="632.50" stroke="#6a6a6a" stroke-width="1.00"/><text x="1468.50" y="639.97" font-size="20.50" font-family="'DejaVu Sans', sans-serif" text-anchor="end" fill="#262626">0.6</text><line x1="1477.50" y1="720.88" x2="1482.00" y2="720.88" stroke="#6a6a6a" stroke-width="1.00"/><text x="1468.50" y="728.35" font-size="20.50" font-family="'DejaVu Sans', sans-serif" text-anchor="end" fill="#262626">0.4</text><line x1="1477.50" y1="809.25" x2="1482.00" y2="809.25" stroke="#6a6a6a" stroke-width="1.00"/><text x="1468.50" y="816.72" font-size="20.50" font-family="'DejaVu Sans', sans-serif" text-anchor="end" fill="#262626">0.2</text><line x1="1477.50" y1="897.62" x2="1482.00" y2="897.62" stroke="#6a6a6a" stroke-width="1.00"/><text x="1468.50" y="905.10" font-size="20.50" font-family="'DejaVu Sans', sans-serif" text-anchor="end" fill="#262626">0</text><text x="1468.50" y="993.47" font-size="20.50" font-family="'DejaVu Sans', sans-serif" text-anchor="end" fill="#262626">-0.2</text><text x="1525.00" y="1013.50" font-size="20.50" font-family="'DejaVu Sans', sans-serif" text-anchor="middle" fill="#262626">-0.2</text><text x="1613.50" y="1013.50" font-size="20.50" font-family="'DejaVu Sans', sans-serif" text-anchor="middle" fill="#262626">0</text><text x="1702.00" y="1013.50" font-size="20.50" font-family="'DejaVu Sans', sans-serif" text-anchor="middle" fill="#262626">0.2</text><text x="1790.50" y="1013.50" font-size="20.50" font-family="'DejaVu Sans', sans-serif" text-anchor="middle" fill="#262626">0.4</text><text x="1879.00" y="1013.50" font-size="20.50" font-family="'DejaVu Sans', sans-serif" text-anchor="middle" fill="#262626">0.6</text><text x="1702.00" y="1038.70" font-size="21.50" font-family="'DejaVu Sans', sans-serif" text-anchor="middle" fill="#262626"><tspan font-style="oblique">x</tspan> (m)</text><text transform="translate(1418.50,809.25) rotate(-90)" x="0" y="0" font-size="21.50" font-family="'DejaVu Sans', sans-serif" text-anchor="middle" fill="#262626"><tspan font-style="oblique">y</tspan> (m)</text><line x1="85.00" y1="1820.00" x2="85.00" y2="2165.50" stroke="#6a6a6a" stroke-width="1.00"/><line x1="85.00" y1="2165.40" x2="521.50" y2="2165.40" stroke="#6a6a6a" stroke-width="1.00"/><line x1="85.00" y1="1820.00" x2="89.50" y2="1820.00" stroke="#6a6a6a" stroke-width="1.00"/><text x="76.00" y="1827.47" font-size="20.50" font-family="'DejaVu Sans', sans-serif" text-anchor="end" fill="#262626">0.6</text><line x1="85.00" y1="1906.25" x2="89.50" y2="1906.25" stroke="#6a6a6a" stroke-width="1.00"/><text x="76.00" y="1913.72" font-size="20.50" font-family="'DejaVu Sans', sans-serif" text-anchor="end" fill="#262626">0.4</text><line x1="85.00" y1="1992.50" x2="89.50" y2="1992.50" stroke="#6a6a6a" stroke-width="1.00"/><text x="76.00" y="1999.97" font-size="20.50" font-family="'DejaVu Sans', sans-serif" text-anchor="end" fill="#262626">0.2</text><line x1="85.00" y1="2078.75" x2="89.50" y2="2078.75" stroke="#6a6a6a" stroke-width="1.00"/><text x="76.00" y="2086.22" font-size="20.50" font-family="'DejaVu Sans', sans-serif" text-anchor="end" fill="#262626">0</text><text x="76.00" y="2172.47" font-size="20.50" font-family="'DejaVu Sans', sans-serif" text-anchor="end" fill="#262626">-0.2</text><text x="130.00" y="2193.00" font-size="20.50" font-family="'DejaVu Sans', sans-serif" text-anchor="middle" fill="#262626">-0.2</text><text x="216.38" y="2193.00" font-size="20.50" font-family="'DejaVu Sans', sans-serif" text-anchor="middle" fill="#262626">0</text><text x="302.75" y="2193.00" font-size="20.50" font-family="'DejaVu Sans', sans-serif" text-anchor="middle" fill="#262626">0.2</text><text x="389.13" y="2193.00" font-size="20.50" font-family="'DejaVu Sans', sans-serif" text-anchor="middle" fill="#262626">0.4</text><text x="475.50" y="2193.00" font-size="20.50" font-family="'DejaVu Sans', sans-serif" text-anchor="middle" fill="#262626">0.6</text><text x="302.75" y="2218.70" font-size="21.50" font-family="'DejaVu Sans', sans-serif" text-anchor="middle" fill="#262626"><tspan font-style="oblique">x</tspan> (m)</text><text transform="translate(23.50,1992.50) rotate(-90)" x="0" y="0" font-size="21.50" font-family="'DejaVu Sans', sans-serif" text-anchor="middle" fill="#262626"><tspan font-style="oblique">y</tspan> (m)</text><line x1="777.50" y1="1811.50" x2="777.50" y2="2165.50" stroke="#6a6a6a" stroke-width="1.00"/><line x1="777.50" y1="2165.40" x2="1226.50" y2="2165.40" stroke="#6a6a6a" stroke-width="1.00"/><line x1="777.50" y1="1811.50" x2="782.00" y2="1811.50" stroke="#6a6a6a" stroke-width="1.00"/><text x="768.50" y="1818.97" font-size="20.50" font-family="'DejaVu Sans', sans-serif" text-anchor="end" fill="#262626">0.6</text><line x1="777.50" y1="1899.88" x2="782.00" y2="1899.88" stroke="#6a6a6a" stroke-width="1.00"/><text x="768.50" y="1907.35" font-size="20.50" font-family="'DejaVu Sans', sans-serif" text-anchor="end" fill="#262626">0.4</text><line x1="777.50" y1="1988.25" x2="782.00" y2="1988.25" stroke="#6a6a6a" stroke-width="1.00"/><text x="768.50" y="1995.72" font-size="20.50" font-family="'DejaVu Sans', sans-serif" text-anchor="end" fill="#262626">0.2</text><line x1="777.50" y1="2076.62" x2="782.00" y2="2076.62" stroke="#6a6a6a" stroke-width="1.00"/><text x="768.50" y="2084.10" font-size="20.50" font-family="'DejaVu Sans', sans-serif" text-anchor="end" fill="#262626">0</text><text x="768.50" y="2172.47" font-size="20.50" font-family="'DejaVu Sans', sans-serif" text-anchor="end" fill="#262626">-0.2</text><text x="825.00" y="2193.00" font-size="20.50" font-family="'DejaVu Sans', sans-serif" text-anchor="middle" fill="#262626">-0.2</text><text x="913.50" y="2193.00" font-size="20.50" font-family="'DejaVu Sans', sans-serif" text-anchor="middle" fill="#262626">0</text><text x="1002.00" y="2193.00" font-size="20.50" font-family="'DejaVu Sans', sans-serif" text-anchor="middle" fill="#262626">0.2</text><text x="1090.50" y="2193.00" font-size="20.50" font-family="'DejaVu Sans', sans-serif" text-anchor="middle" fill="#262626">0.4</text><text x="1179.00" y="2193.00" font-size="20.50" font-family="'DejaVu Sans', sans-serif" text-anchor="middle" fill="#262626">0.6</text><text x="1002.00" y="2219.70" font-size="21.50" font-family="'DejaVu Sans', sans-serif" text-anchor="middle" fill="#262626"><tspan font-style="oblique">x</tspan> (m)</text><text transform="translate(718.50,1988.25) rotate(-90)" x="0" y="0" font-size="21.50" font-family="'DejaVu Sans', sans-serif" text-anchor="middle" fill="#262626"><tspan font-style="oblique">y</tspan> (m)</text><line x1="1477.50" y1="1811.50" x2="1477.50" y2="2165.50" stroke="#6a6a6a" stroke-width="1.00"/><line x1="1477.50" y1="2165.40" x2="1925.50" y2="2165.40" stroke="#6a6a6a" stroke-width="1.00"/><line x1="1477.50" y1="1811.50" x2="1482.00" y2="1811.50" stroke="#6a6a6a" stroke-width="1.00"/><text x="1468.50" y="1818.97" font-size="20.50" font-family="'DejaVu Sans', sans-serif" text-anchor="end" fill="#262626">0.6</text><line x1="1477.50" y1="1899.88" x2="1482.00" y2="1899.88" stroke="#6a6a6a" stroke-width="1.00"/><text x="1468.50" y="1907.35" font-size="20.50" font-family="'DejaVu Sans', sans-serif" text-anchor="end" fill="#262626">0.4</text><line x1="1477.50" y1="1988.25" x2="1482.00" y2="1988.25" stroke="#6a6a6a" stroke-width="1.00"/><text x="1468.50" y="1995.72" font-size="20.50" font-family="'DejaVu Sans', sans-serif" text-anchor="end" fill="#262626">0.2</text><line x1="1477.50" y1="2076.62" x2="1482.00" y2="2076.62" stroke="#6a6a6a" stroke-width="1.00"/><text x="1468.50" y="2084.10" font-size="20.50" font-family="'DejaVu Sans', sans-serif" text-anchor="end" fill="#262626">0</text><text x="1468.50" y="2172.47" font-size="20.50" font-family="'DejaVu Sans', sans-serif" text-anchor="end" fill="#262626">-0.2</text><text x="1525.00" y="2193.00" font-size="20.50" font-family="'DejaVu Sans', sans-serif" text-anchor="middle" fill="#262626">-0.2</text><text x="1613.50" y="2193.00" font-size="20.50" font-family="'DejaVu Sans', sans-serif" text-anchor="middle" fill="#262626">0</text><text x="1702.00" y="2193.00" font-size="20.50" font-family="'DejaVu Sans', sans-serif" text-anchor="middle" fill="#262626">0.2</text><text x="1790.50" y="2193.00" font-size="20.50" font-family="'DejaVu Sans', sans-serif" text-anchor="middle" fill="#262626">0.4</text><text x="1879.00" y="2193.00" font-size="20.50" font-family="'DejaVu Sans', sans-serif" text-anchor="middle" fill="#262626">0.6</text><text x="1702.00" y="2219.70" font-size="21.50" font-family="'DejaVu Sans', sans-serif" text-anchor="middle" fill="#262626"><tspan font-style="oblique">x</tspan> (m)</text><text transform="translate(1418.50,1988.25) rotate(-90)" x="0" y="0" font-size="21.50" font-family="'DejaVu Sans', sans-serif" text-anchor="middle" fill="#262626"><tspan font-style="oblique">y</tspan> (m)</text><line x1="79.20" y1="219.80" x2="79.20" y2="280.90" stroke="#262626" stroke-width="1.00"/><line x1="79.20" y1="280.90" x2="322.10" y2="368.60" stroke="#262626" stroke-width="1.00"/><line x1="322.10" y1="368.60" x2="499.50" y2="294.10" stroke="#262626" stroke-width="1.00"/><line x1="79.20" y1="271.41" x2="73.20" y2="269.01" stroke="#262626" stroke-width="0.90"/><text x="64.70" y="274.58" font-size="20.50" font-family="'DejaVu Sans', sans-serif" text-anchor="end" fill="#262626">0.1</text><line x1="79.20" y1="241.75" x2="73.20" y2="239.35" stroke="#262626" stroke-width="0.90"/><text x="64.70" y="244.92" font-size="20.50" font-family="'DejaVu Sans', sans-serif" text-anchor="end" fill="#262626">0.2</text><line x1="103.85" y1="289.80" x2="98.69" y2="291.97" stroke="#262626" stroke-width="0.90"/><text x="91.05" y="314.27" font-size="20.50" font-family="'DejaVu Sans', sans-serif" text-anchor="end" fill="#262626">-0.2</text><line x1="151.71" y1="307.08" x2="146.55" y2="309.25" stroke="#262626" stroke-width="0.90"/><text x="138.91" y="331.55" font-size="20.50" font-family="'DejaVu Sans', sans-serif" text-anchor="end" fill="#262626">0</text><line x1="199.57" y1="324.36" x2="194.41" y2="326.53" stroke="#262626" stroke-width="0.90"/><text x="186.77" y="348.83" font-size="20.50" font-family="'DejaVu Sans', sans-serif" text-anchor="end" fill="#262626">0.2</text><line x1="247.44" y1="341.64" x2="242.27" y2="343.81" stroke="#262626" stroke-width="0.90"/><text x="234.64" y="366.11" font-size="20.50" font-family="'DejaVu Sans', sans-serif" text-anchor="end" fill="#262626">0.4</text><line x1="295.30" y1="358.92" x2="290.13" y2="361.09" stroke="#262626" stroke-width="0.90"/><text x="282.50" y="383.40" font-size="20.50" font-family="'DejaVu Sans', sans-serif" text-anchor="end" fill="#262626">0.6</text><line x1="322.10" y1="368.60" x2="327.37" y2="370.50" stroke="#262626" stroke-width="0.90"/><text x="334.10" y="392.87" font-size="20.50" font-family="'DejaVu Sans', sans-serif" text-anchor="start" fill="#262626">-0.2</text><line x1="366.45" y1="349.98" x2="371.72" y2="351.88" stroke="#262626" stroke-width="0.90"/><text x="378.45" y="374.25" font-size="20.50" font-family="'DejaVu Sans', sans-serif" text-anchor="start" fill="#262626">0</text><line x1="410.80" y1="331.35" x2="416.07" y2="333.25" stroke="#262626" stroke-width="0.90"/><text x="422.80" y="355.62" font-size="20.50" font-family="'DejaVu Sans', sans-serif" text-anchor="start" fill="#262626">0.2</text><line x1="455.15" y1="312.73" x2="460.42" y2="314.63" stroke="#262626" stroke-width="0.90"/><text x="467.15" y="337.00" font-size="20.50" font-family="'DejaVu Sans', sans-serif" text-anchor="start" fill="#262626">0.4</text><line x1="499.50" y1="294.10" x2="504.77" y2="296.00" stroke="#262626" stroke-width="0.90"/><text x="155.00" y="400.00" font-size="23.00" font-family="'DejaVu Sans', sans-serif" text-anchor="middle" fill="#262626"><tspan font-style="oblique">x</tspan> (m)</text><text x="470.00" y="403.50" font-size="23.00" font-family="'DejaVu Sans', sans-serif" text-anchor="middle" fill="#262626"><tspan font-style="oblique">y</tspan> (m)</text><text transform="translate(20.70,250.90) rotate(-90)" x="0" y="0" font-size="23.00" font-family="'DejaVu Sans', sans-serif" text-anchor="middle" fill="#262626"><tspan font-style="oblique">z</tspan> (m)</text><line x1="785.00" y1="225.00" x2="785.00" y2="284.00" stroke="#262626" stroke-width="1.00"/><line x1="785.00" y1="284.00" x2="1024.00" y2="371.00" stroke="#262626" stroke-width="1.00"/><line x1="1024.00" y1="371.00" x2="1195.00" y2="297.00" stroke="#262626" stroke-width="1.00"/><line x1="785.00" y1="274.83" x2="779.00" y2="272.43" stroke="#262626" stroke-width="0.90"/><text x="770.50" y="278.01" font-size="20.50" font-family="'DejaVu Sans', sans-serif" text-anchor="end" fill="#262626">0.1</text><line x1="785.00" y1="246.19" x2="779.00" y2="243.79" stroke="#262626" stroke-width="0.90"/><text x="770.50" y="249.37" font-size="20.50" font-family="'DejaVu Sans', sans-serif" text-anchor="end" fill="#262626">0.2</text><line x1="809.25" y1="292.83" x2="804.11" y2="295.05" stroke="#262626" stroke-width="0.90"/><text x="796.45" y="317.30" font-size="20.50" font-family="'DejaVu Sans', sans-serif" text-anchor="end" fill="#262626">-0.2</text><line x1="856.35" y1="309.97" x2="851.21" y2="312.20" stroke="#262626" stroke-width="0.90"/><text x="843.55" y="334.44" font-size="20.50" font-family="'DejaVu Sans', sans-serif" text-anchor="end" fill="#262626">0</text><line x1="903.44" y1="327.11" x2="898.30" y2="329.34" stroke="#262626" stroke-width="0.90"/><text x="890.64" y="351.59" font-size="20.50" font-family="'DejaVu Sans', sans-serif" text-anchor="end" fill="#262626">0.2</text><line x1="950.53" y1="344.26" x2="945.39" y2="346.48" stroke="#262626" stroke-width="0.90"/><text x="937.73" y="368.73" font-size="20.50" font-family="'DejaVu Sans', sans-serif" text-anchor="end" fill="#262626">0.4</text><line x1="997.63" y1="361.40" x2="992.49" y2="363.62" stroke="#262626" stroke-width="0.90"/><text x="984.83" y="385.87" font-size="20.50" font-family="'DejaVu Sans', sans-serif" text-anchor="end" fill="#262626">0.6</text><line x1="1024.00" y1="371.00" x2="1029.26" y2="372.92" stroke="#262626" stroke-width="0.90"/><text x="1036.00" y="395.27" font-size="20.50" font-family="'DejaVu Sans', sans-serif" text-anchor="start" fill="#262626">-0.2</text><line x1="1066.75" y1="352.50" x2="1072.01" y2="354.42" stroke="#262626" stroke-width="0.90"/><text x="1078.75" y="376.77" font-size="20.50" font-family="'DejaVu Sans', sans-serif" text-anchor="start" fill="#262626">0</text><line x1="1109.50" y1="334.00" x2="1114.76" y2="335.92" stroke="#262626" stroke-width="0.90"/><text x="1121.50" y="358.27" font-size="20.50" font-family="'DejaVu Sans', sans-serif" text-anchor="start" fill="#262626">0.2</text><line x1="1152.25" y1="315.50" x2="1157.51" y2="317.42" stroke="#262626" stroke-width="0.90"/><text x="1164.25" y="339.77" font-size="20.50" font-family="'DejaVu Sans', sans-serif" text-anchor="start" fill="#262626">0.4</text><line x1="1195.00" y1="297.00" x2="1200.26" y2="298.92" stroke="#262626" stroke-width="0.90"/><text x="859.58" y="401.19" font-size="23.00" font-family="'DejaVu Sans', sans-serif" text-anchor="middle" fill="#262626"><tspan font-style="oblique">x</tspan> (m)</text><text x="1169.53" y="404.63" font-size="23.00" font-family="'DejaVu Sans', sans-serif" text-anchor="middle" fill="#262626"><tspan font-style="oblique">y</tspan> (m)</text><text transform="translate(727.44,254.48) rotate(-90)" x="0" y="0" font-size="23.00" font-family="'DejaVu Sans', sans-serif" text-anchor="middle" fill="#262626"><tspan font-style="oblique">z</tspan> (m)</text><line x1="1484.00" y1="223.00" x2="1484.00" y2="285.00" stroke="#262626" stroke-width="1.00"/><line x1="1484.00" y1="285.00" x2="1724.00" y2="374.00" stroke="#262626" stroke-width="1.00"/><line x1="1724.00" y1="374.00" x2="1895.00" y2="298.00" stroke="#262626" stroke-width="1.00"/><line x1="1484.00" y1="275.37" x2="1478.00" y2="272.97" stroke="#262626" stroke-width="0.90"/><text x="1469.50" y="278.54" font-size="20.50" font-family="'DejaVu Sans', sans-serif" text-anchor="end" fill="#262626">0.1</text><line x1="1484.00" y1="245.27" x2="1478.00" y2="242.87" stroke="#262626" stroke-width="0.90"/><text x="1469.50" y="248.44" font-size="20.50" font-family="'DejaVu Sans', sans-serif" text-anchor="end" fill="#262626">0.2</text><line x1="1508.35" y1="294.03" x2="1503.24" y2="296.31" stroke="#262626" stroke-width="0.90"/><text x="1495.55" y="318.50" font-size="20.50" font-family="'DejaVu Sans', sans-serif" text-anchor="end" fill="#262626">-0.2</text><line x1="1555.65" y1="311.57" x2="1550.53" y2="313.84" stroke="#262626" stroke-width="0.90"/><text x="1542.85" y="336.04" font-size="20.50" font-family="'DejaVu Sans', sans-serif" text-anchor="end" fill="#262626">0</text><line x1="1602.94" y1="329.11" x2="1597.82" y2="331.38" stroke="#262626" stroke-width="0.90"/><text x="1590.14" y="353.58" font-size="20.50" font-family="'DejaVu Sans', sans-serif" text-anchor="end" fill="#262626">0.2</text><line x1="1650.23" y1="346.64" x2="1645.11" y2="348.92" stroke="#262626" stroke-width="0.90"/><text x="1637.43" y="371.11" font-size="20.50" font-family="'DejaVu Sans', sans-serif" text-anchor="end" fill="#262626">0.4</text><line x1="1697.52" y1="364.18" x2="1692.40" y2="366.45" stroke="#262626" stroke-width="0.90"/><text x="1684.72" y="388.65" font-size="20.50" font-family="'DejaVu Sans', sans-serif" text-anchor="end" fill="#262626">0.6</text><line x1="1724.00" y1="374.00" x2="1729.25" y2="375.95" stroke="#262626" stroke-width="0.90"/><text x="1736.00" y="398.27" font-size="20.50" font-family="'DejaVu Sans', sans-serif" text-anchor="start" fill="#262626">-0.2</text><line x1="1766.75" y1="355.00" x2="1772.00" y2="356.95" stroke="#262626" stroke-width="0.90"/><text x="1778.75" y="379.27" font-size="20.50" font-family="'DejaVu Sans', sans-serif" text-anchor="start" fill="#262626">0</text><line x1="1809.50" y1="336.00" x2="1814.75" y2="337.95" stroke="#262626" stroke-width="0.90"/><text x="1821.50" y="360.27" font-size="20.50" font-family="'DejaVu Sans', sans-serif" text-anchor="start" fill="#262626">0.2</text><line x1="1852.25" y1="317.00" x2="1857.50" y2="318.95" stroke="#262626" stroke-width="0.90"/><text x="1864.25" y="341.27" font-size="20.50" font-family="'DejaVu Sans', sans-serif" text-anchor="start" fill="#262626">0.4</text><line x1="1895.00" y1="298.00" x2="1900.25" y2="299.95" stroke="#262626" stroke-width="0.90"/><text x="1558.90" y="402.68" font-size="23.00" font-family="'DejaVu Sans', sans-serif" text-anchor="middle" fill="#262626"><tspan font-style="oblique">x</tspan> (m)</text><text x="1870.13" y="406.14" font-size="23.00" font-family="'DejaVu Sans', sans-serif" text-anchor="middle" fill="#262626"><tspan font-style="oblique">y</tspan> (m)</text><text transform="translate(1426.20,255.36) rotate(-90)" x="0" y="0" font-size="23.00" font-family="'DejaVu Sans', sans-serif" text-anchor="middle" fill="#262626"><tspan font-style="oblique">z</tspan> (m)</text><line x1="85.00" y1="1403.00" x2="85.00" y2="1462.00" stroke="#262626" stroke-width="1.00"/><line x1="85.00" y1="1462.00" x2="325.00" y2="1549.00" stroke="#262626" stroke-width="1.00"/><line x1="325.00" y1="1549.00" x2="496.00" y2="1476.00" stroke="#262626" stroke-width="1.00"/><line x1="85.00" y1="1452.83" x2="79.00" y2="1450.43" stroke="#262626" stroke-width="0.90"/><text x="70.50" y="1456.01" font-size="20.50" font-family="'DejaVu Sans', sans-serif" text-anchor="end" fill="#262626">0.1</text><line x1="85.00" y1="1424.19" x2="79.00" y2="1421.79" stroke="#262626" stroke-width="0.90"/><text x="70.50" y="1427.37" font-size="20.50" font-family="'DejaVu Sans', sans-serif" text-anchor="end" fill="#262626">0.2</text><line x1="109.35" y1="1470.83" x2="104.20" y2="1473.03" stroke="#262626" stroke-width="0.90"/><text x="96.55" y="1495.30" font-size="20.50" font-family="'DejaVu Sans', sans-serif" text-anchor="end" fill="#262626">-0.2</text><line x1="156.65" y1="1487.97" x2="151.49" y2="1490.17" stroke="#262626" stroke-width="0.90"/><text x="143.85" y="1512.44" font-size="20.50" font-family="'DejaVu Sans', sans-serif" text-anchor="end" fill="#262626">0</text><line x1="203.94" y1="1505.11" x2="198.79" y2="1507.31" stroke="#262626" stroke-width="0.90"/><text x="191.14" y="1529.59" font-size="20.50" font-family="'DejaVu Sans', sans-serif" text-anchor="end" fill="#262626">0.2</text><line x1="251.23" y1="1522.26" x2="246.08" y2="1524.46" stroke="#262626" stroke-width="0.90"/><text x="238.43" y="1546.73" font-size="20.50" font-family="'DejaVu Sans', sans-serif" text-anchor="end" fill="#262626">0.4</text><line x1="298.52" y1="1539.40" x2="293.37" y2="1541.60" stroke="#262626" stroke-width="0.90"/><text x="285.72" y="1563.87" font-size="20.50" font-family="'DejaVu Sans', sans-serif" text-anchor="end" fill="#262626">0.6</text><line x1="325.00" y1="1549.00" x2="330.26" y2="1550.91" stroke="#262626" stroke-width="0.90"/><text x="337.00" y="1573.27" font-size="20.50" font-family="'DejaVu Sans', sans-serif" text-anchor="start" fill="#262626">-0.2</text><line x1="367.75" y1="1530.75" x2="373.01" y2="1532.66" stroke="#262626" stroke-width="0.90"/><text x="379.75" y="1555.02" font-size="20.50" font-family="'DejaVu Sans', sans-serif" text-anchor="start" fill="#262626">0</text><line x1="410.50" y1="1512.50" x2="415.76" y2="1514.41" stroke="#262626" stroke-width="0.90"/><text x="422.50" y="1536.77" font-size="20.50" font-family="'DejaVu Sans', sans-serif" text-anchor="start" fill="#262626">0.2</text><line x1="453.25" y1="1494.25" x2="458.51" y2="1496.16" stroke="#262626" stroke-width="0.90"/><text x="465.25" y="1518.52" font-size="20.50" font-family="'DejaVu Sans', sans-serif" text-anchor="start" fill="#262626">0.4</text><line x1="496.00" y1="1476.00" x2="501.26" y2="1477.91" stroke="#262626" stroke-width="0.90"/><text x="159.90" y="1579.68" font-size="23.00" font-family="'DejaVu Sans', sans-serif" text-anchor="middle" fill="#262626"><tspan font-style="oblique">x</tspan> (m)</text><text x="471.13" y="1583.14" font-size="23.00" font-family="'DejaVu Sans', sans-serif" text-anchor="middle" fill="#262626"><tspan font-style="oblique">y</tspan> (m)</text><text transform="translate(27.20,1432.36) rotate(-90)" x="0" y="0" font-size="23.00" font-family="'DejaVu Sans', sans-serif" text-anchor="middle" fill="#262626"><tspan font-style="oblique">z</tspan> (m)</text><line x1="783.00" y1="1402.00" x2="783.00" y2="1462.00" stroke="#262626" stroke-width="1.00"/><line x1="783.00" y1="1462.00" x2="1024.00" y2="1552.00" stroke="#262626" stroke-width="1.00"/><line x1="1024.00" y1="1552.00" x2="1195.00" y2="1477.00" stroke="#262626" stroke-width="1.00"/><line x1="783.00" y1="1452.68" x2="777.00" y2="1450.28" stroke="#262626" stroke-width="0.90"/><text x="768.50" y="1455.85" font-size="20.50" font-family="'DejaVu Sans', sans-serif" text-anchor="end" fill="#262626">0.1</text><line x1="783.00" y1="1423.55" x2="777.00" y2="1421.15" stroke="#262626" stroke-width="0.90"/><text x="768.50" y="1426.73" font-size="20.50" font-family="'DejaVu Sans', sans-serif" text-anchor="end" fill="#262626">0.2</text><line x1="807.46" y1="1471.13" x2="802.33" y2="1473.38" stroke="#262626" stroke-width="0.90"/><text x="794.66" y="1495.61" font-size="20.50" font-family="'DejaVu Sans', sans-serif" text-anchor="end" fill="#262626">-0.2</text><line x1="854.94" y1="1488.87" x2="849.82" y2="1491.12" stroke="#262626" stroke-width="0.90"/><text x="842.14" y="1513.34" font-size="20.50" font-family="'DejaVu Sans', sans-serif" text-anchor="end" fill="#262626">0</text><line x1="902.43" y1="1506.60" x2="897.30" y2="1508.85" stroke="#262626" stroke-width="0.90"/><text x="889.63" y="1531.07" font-size="20.50" font-family="'DejaVu Sans', sans-serif" text-anchor="end" fill="#262626">0.2</text><line x1="949.92" y1="1524.33" x2="944.79" y2="1526.58" stroke="#262626" stroke-width="0.90"/><text x="937.12" y="1548.81" font-size="20.50" font-family="'DejaVu Sans', sans-serif" text-anchor="end" fill="#262626">0.4</text><line x1="997.41" y1="1542.07" x2="992.28" y2="1544.32" stroke="#262626" stroke-width="0.90"/><text x="984.61" y="1566.54" font-size="20.50" font-family="'DejaVu Sans', sans-serif" text-anchor="end" fill="#262626">0.6</text><line x1="1024.00" y1="1552.00" x2="1029.25" y2="1553.96" stroke="#262626" stroke-width="0.90"/><text x="1036.00" y="1576.27" font-size="20.50" font-family="'DejaVu Sans', sans-serif" text-anchor="start" fill="#262626">-0.2</text><line x1="1066.75" y1="1533.25" x2="1072.00" y2="1535.21" stroke="#262626" stroke-width="0.90"/><text x="1078.75" y="1557.52" font-size="20.50" font-family="'DejaVu Sans', sans-serif" text-anchor="start" fill="#262626">0</text><line x1="1109.50" y1="1514.50" x2="1114.75" y2="1516.46" stroke="#262626" stroke-width="0.90"/><text x="1121.50" y="1538.77" font-size="20.50" font-family="'DejaVu Sans', sans-serif" text-anchor="start" fill="#262626">0.2</text><line x1="1152.25" y1="1495.75" x2="1157.50" y2="1497.71" stroke="#262626" stroke-width="0.90"/><text x="1164.25" y="1520.02" font-size="20.50" font-family="'DejaVu Sans', sans-serif" text-anchor="start" fill="#262626">0.4</text><line x1="1195.00" y1="1477.00" x2="1200.25" y2="1478.96" stroke="#262626" stroke-width="0.90"/><text x="858.21" y="1580.17" font-size="23.00" font-family="'DejaVu Sans', sans-serif" text-anchor="middle" fill="#262626"><tspan font-style="oblique">x</tspan> (m)</text><text x="1170.74" y="1583.64" font-size="23.00" font-family="'DejaVu Sans', sans-serif" text-anchor="middle" fill="#262626"><tspan font-style="oblique">y</tspan> (m)</text><text transform="translate(724.96,1432.23) rotate(-90)" x="0" y="0" font-size="23.00" font-family="'DejaVu Sans', sans-serif" text-anchor="middle" fill="#262626"><tspan font-style="oblique">z</tspan> (m)</text><line x1="1484.00" y1="1401.00" x2="1484.00" y2="1463.00" stroke="#262626" stroke-width="1.00"/><line x1="1484.00" y1="1463.00" x2="1724.00" y2="1552.00" stroke="#262626" stroke-width="1.00"/><line x1="1724.00" y1="1552.00" x2="1895.00" y2="1477.00" stroke="#262626" stroke-width="1.00"/><line x1="1484.00" y1="1453.37" x2="1478.00" y2="1450.97" stroke="#262626" stroke-width="0.90"/><text x="1469.50" y="1456.54" font-size="20.50" font-family="'DejaVu Sans', sans-serif" text-anchor="end" fill="#262626">0.1</text><line x1="1484.00" y1="1423.27" x2="1478.00" y2="1420.87" stroke="#262626" stroke-width="0.90"/><text x="1469.50" y="1426.44" font-size="20.50" font-family="'DejaVu Sans', sans-serif" text-anchor="end" fill="#262626">0.2</text><line x1="1508.35" y1="1472.03" x2="1503.23" y2="1474.28" stroke="#262626" stroke-width="0.90"/><text x="1495.55" y="1496.50" font-size="20.50" font-family="'DejaVu Sans', sans-serif" text-anchor="end" fill="#262626">-0.2</text><line x1="1555.65" y1="1489.57" x2="1550.52" y2="1491.82" stroke="#262626" stroke-width="0.90"/><text x="1542.85" y="1514.04" font-size="20.50" font-family="'DejaVu Sans', sans-serif" text-anchor="end" fill="#262626">0</text><line x1="1602.94" y1="1507.11" x2="1597.81" y2="1509.35" stroke="#262626" stroke-width="0.90"/><text x="1590.14" y="1531.58" font-size="20.50" font-family="'DejaVu Sans', sans-serif" text-anchor="end" fill="#262626">0.2</text><line x1="1650.23" y1="1524.64" x2="1645.10" y2="1526.89" stroke="#262626" stroke-width="0.90"/><text x="1637.43" y="1549.11" font-size="20.50" font-family="'DejaVu Sans', sans-serif" text-anchor="end" fill="#262626">0.4</text><line x1="1697.52" y1="1542.18" x2="1692.39" y2="1544.43" stroke="#262626" stroke-width="0.90"/><text x="1684.72" y="1566.65" font-size="20.50" font-family="'DejaVu Sans', sans-serif" text-anchor="end" fill="#262626">0.6</text><line x1="1724.00" y1="1552.00" x2="1729.25" y2="1553.95" stroke="#262626" stroke-width="0.90"/><text x="1736.00" y="1576.27" font-size="20.50" font-family="'DejaVu Sans', sans-serif" text-anchor="start" fill="#262626">-0.2</text><line x1="1766.75" y1="1533.25" x2="1772.00" y2="1535.20" stroke="#262626" stroke-width="0.90"/><text x="1778.75" y="1557.52" font-size="20.50" font-family="'DejaVu Sans', sans-serif" text-anchor="start" fill="#262626">0</text><line x1="1809.50" y1="1514.50" x2="1814.75" y2="1516.45" stroke="#262626" stroke-width="0.90"/><text x="1821.50" y="1538.77" font-size="20.50" font-family="'DejaVu Sans', sans-serif" text-anchor="start" fill="#262626">0.2</text><line x1="1852.25" y1="1495.75" x2="1857.50" y2="1497.70" stroke="#262626" stroke-width="0.90"/><text x="1864.25" y="1520.02" font-size="20.50" font-family="'DejaVu Sans', sans-serif" text-anchor="start" fill="#262626">0.4</text><line x1="1895.00" y1="1477.00" x2="1900.25" y2="1478.95" stroke="#262626" stroke-width="0.90"/><text x="1558.90" y="1580.68" font-size="23.00" font-family="'DejaVu Sans', sans-serif" text-anchor="middle" fill="#262626"><tspan font-style="oblique">x</tspan> (m)</text><text x="1870.13" y="1584.14" font-size="23.00" font-family="'DejaVu Sans', sans-serif" text-anchor="middle" fill="#262626"><tspan font-style="oblique">y</tspan> (m)</text><text transform="translate(1426.20,1433.36) rotate(-90)" x="0" y="0" font-size="23.00" font-family="'DejaVu Sans', sans-serif" text-anchor="middle" fill="#262626"><tspan font-style="oblique">z</tspan> (m)</text><rect x="540.50" y="65.30" width="25.00" height="382.70" fill="url(#parula)" stroke="#3a3a3a" stroke-width="0.9"/><text x="573.00" y="72.04" font-size="18.50" font-family="'DejaVu Sans', sans-serif" text-anchor="start" fill="#262626">10</text><line x1="561.70" y1="113.14" x2="565.50" y2="113.14" stroke="#262626" stroke-width="1.00"/><text x="573.00" y="119.88" font-size="18.50" font-family="'DejaVu Sans', sans-serif" text-anchor="start" fill="#262626">5</text><line x1="561.70" y1="160.97" x2="565.50" y2="160.97" stroke="#262626" stroke-width="1.00"/><text x="573.00" y="167.72" font-size="18.50" font-family="'DejaVu Sans', sans-serif" text-anchor="start" fill="#262626">0</text><line x1="561.70" y1="208.81" x2="565.50" y2="208.81" stroke="#262626" stroke-width="1.00"/><text x="573.00" y="215.56" font-size="18.50" font-family="'DejaVu Sans', sans-serif" text-anchor="start" fill="#262626">-5</text><line x1="561.70" y1="256.65" x2="565.50" y2="256.65" stroke="#262626" stroke-width="1.00"/><text x="573.00" y="263.39" font-size="18.50" font-family="'DejaVu Sans', sans-serif" text-anchor="start" fill="#262626">-10</text><line x1="561.70" y1="304.49" x2="565.50" y2="304.49" stroke="#262626" stroke-width="1.00"/><text x="573.00" y="311.23" font-size="18.50" font-family="'DejaVu Sans', sans-serif" text-anchor="start" fill="#262626">-15</text><line x1="561.70" y1="352.32" x2="565.50" y2="352.32" stroke="#262626" stroke-width="1.00"/><text x="573.00" y="359.07" font-size="18.50" font-family="'DejaVu Sans', sans-serif" text-anchor="start" fill="#262626">-20</text><line x1="561.70" y1="400.16" x2="565.50" y2="400.16" stroke="#262626" stroke-width="1.00"/><text x="573.00" y="406.91" font-size="18.50" font-family="'DejaVu Sans', sans-serif" text-anchor="start" fill="#262626">-25</text><text x="573.00" y="454.74" font-size="18.50" font-family="'DejaVu Sans', sans-serif" text-anchor="start" fill="#262626">-30</text><text x="540.00" y="53.50" font-size="20.50" font-family="'DejaVu Sans', sans-serif" text-anchor="start" fill="#262626">dB</text><rect x="1236.00" y="66.00" width="25.00" height="389.00" fill="url(#parula)" stroke="#3a3a3a" stroke-width="0.9"/><text x="1268.50" y="72.74" font-size="18.50" font-family="'DejaVu Sans', sans-serif" text-anchor="start" fill="#262626">10</text><line x1="1257.20" y1="114.62" x2="1261.00" y2="114.62" stroke="#262626" stroke-width="1.00"/><text x="1268.50" y="121.37" font-size="18.50" font-family="'DejaVu Sans', sans-serif" text-anchor="start" fill="#262626">5</text><line x1="1257.20" y1="163.25" x2="1261.00" y2="163.25" stroke="#262626" stroke-width="1.00"/><text x="1268.50" y="169.99" font-size="18.50" font-family="'DejaVu Sans', sans-serif" text-anchor="start" fill="#262626">0</text><line x1="1257.20" y1="211.88" x2="1261.00" y2="211.88" stroke="#262626" stroke-width="1.00"/><text x="1268.50" y="218.62" font-size="18.50" font-family="'DejaVu Sans', sans-serif" text-anchor="start" fill="#262626">-5</text><line x1="1257.20" y1="260.50" x2="1261.00" y2="260.50" stroke="#262626" stroke-width="1.00"/><text x="1268.50" y="267.24" font-size="18.50" font-family="'DejaVu Sans', sans-serif" text-anchor="start" fill="#262626">-10</text><line x1="1257.20" y1="309.12" x2="1261.00" y2="309.12" stroke="#262626" stroke-width="1.00"/><text x="1268.50" y="315.87" font-size="18.50" font-family="'DejaVu Sans', sans-serif" text-anchor="start" fill="#262626">-15</text><line x1="1257.20" y1="357.75" x2="1261.00" y2="357.75" stroke="#262626" stroke-width="1.00"/><text x="1268.50" y="364.49" font-size="18.50" font-family="'DejaVu Sans', sans-serif" text-anchor="start" fill="#262626">-20</text><line x1="1257.20" y1="406.38" x2="1261.00" y2="406.38" stroke="#262626" stroke-width="1.00"/><text x="1268.50" y="413.12" font-size="18.50" font-family="'DejaVu Sans', sans-serif" text-anchor="start" fill="#262626">-25</text><text x="1268.50" y="461.74" font-size="18.50" font-family="'DejaVu Sans', sans-serif" text-anchor="start" fill="#262626">-30</text><text x="1236.00" y="55.00" font-size="20.50" font-family="'DejaVu Sans', sans-serif" text-anchor="start" fill="#262626">dB</text><rect x="1936.00" y="66.00" width="25.00" height="389.00" fill="url(#parula)" stroke="#3a3a3a" stroke-width="0.9"/><text x="1968.50" y="72.74" font-size="18.50" font-family="'DejaVu Sans', sans-serif" text-anchor="start" fill="#262626">10</text><line x1="1957.20" y1="114.62" x2="1961.00" y2="114.62" stroke="#262626" stroke-width="1.00"/><text x="1968.50" y="121.37" font-size="18.50" font-family="'DejaVu Sans', sans-serif" text-anchor="start" fill="#262626">5</text><line x1="1957.20" y1="163.25" x2="1961.00" y2="163.25" stroke="#262626" stroke-width="1.00"/><text x="1968.50" y="169.99" font-size="18.50" font-family="'DejaVu Sans', sans-serif" text-anchor="start" fill="#262626">0</text><line x1="1957.20" y1="211.88" x2="1961.00" y2="211.88" stroke="#262626" stroke-width="1.00"/><text x="1968.50" y="218.62" font-size="18.50" font-family="'DejaVu Sans', sans-serif" text-anchor="start" fill="#262626">-5</text><line x1="1957.20" y1="260.50" x2="1961.00" y2="260.50" stroke="#262626" stroke-width="1.00"/><text x="1968.50" y="267.24" font-size="18.50" font-family="'DejaVu Sans', sans-serif" text-anchor="start" fill="#262626">-10</text><line x1="1957.20" y1="309.12" x2="1961.00" y2="309.12" stroke="#262626" stroke-width="1.00"/><text x="1968.50" y="315.87" font-size="18.50" font-family="'DejaVu Sans', sans-serif" text-anchor="start" fill="#262626">-15</text><line x1="1957.20" y1="357.75" x2="1961.00" y2="357.75" stroke="#262626" stroke-width="1.00"/><text x="1968.50" y="364.49" font-size="18.50" font-family="'DejaVu Sans', sans-serif" text-anchor="start" fill="#262626">-20</text><line x1="1957.20" y1="406.38" x2="1961.00" y2="406.38" stroke="#262626" stroke-width="1.00"/><text x="1968.50" y="413.12" font-size="18.50" font-family="'DejaVu Sans', sans-serif" text-anchor="start" fill="#262626">-25</text><text x="1968.50" y="461.74" font-size="18.50" font-family="'DejaVu Sans', sans-serif" text-anchor="start" fill="#262626">-30</text><text x="1945.00" y="61.00" font-size="20.50" font-family="'DejaVu Sans', sans-serif" text-anchor="start" fill="#262626">dB</text><rect x="534.00" y="641.00" width="24.50" height="345.00" fill="url(#parula)" stroke="#3a3a3a" stroke-width="0.9"/><text x="566.00" y="647.74" font-size="18.50" font-family="'DejaVu Sans', sans-serif" text-anchor="start" fill="#262626">10</text><line x1="554.70" y1="684.12" x2="558.50" y2="684.12" stroke="#262626" stroke-width="1.00"/><text x="566.00" y="690.87" font-size="18.50" font-family="'DejaVu Sans', sans-serif" text-anchor="start" fill="#262626">5</text><line x1="554.70" y1="727.25" x2="558.50" y2="727.25" stroke="#262626" stroke-width="1.00"/><text x="566.00" y="733.99" font-size="18.50" font-family="'DejaVu Sans', sans-serif" text-anchor="start" fill="#262626">0</text><line x1="554.70" y1="770.38" x2="558.50" y2="770.38" stroke="#262626" stroke-width="1.00"/><text x="566.00" y="777.12" font-size="18.50" font-family="'DejaVu Sans', sans-serif" text-anchor="start" fill="#262626">-5</text><line x1="554.70" y1="813.50" x2="558.50" y2="813.50" stroke="#262626" stroke-width="1.00"/><text x="566.00" y="820.24" font-size="18.50" font-family="'DejaVu Sans', sans-serif" text-anchor="start" fill="#262626">-10</text><line x1="554.70" y1="856.62" x2="558.50" y2="856.62" stroke="#262626" stroke-width="1.00"/><text x="566.00" y="863.37" font-size="18.50" font-family="'DejaVu Sans', sans-serif" text-anchor="start" fill="#262626">-15</text><line x1="554.70" y1="899.75" x2="558.50" y2="899.75" stroke="#262626" stroke-width="1.00"/><text x="566.00" y="906.49" font-size="18.50" font-family="'DejaVu Sans', sans-serif" text-anchor="start" fill="#262626">-20</text><line x1="554.70" y1="942.88" x2="558.50" y2="942.88" stroke="#262626" stroke-width="1.00"/><text x="566.00" y="949.62" font-size="18.50" font-family="'DejaVu Sans', sans-serif" text-anchor="start" fill="#262626">-25</text><text x="566.00" y="992.74" font-size="18.50" font-family="'DejaVu Sans', sans-serif" text-anchor="start" fill="#262626">-30</text><text x="542.00" y="636.00" font-size="20.50" font-family="'DejaVu Sans', sans-serif" text-anchor="start" fill="#262626">dB</text><rect x="1234.00" y="641.00" width="25.00" height="345.00" fill="url(#parula)" stroke="#3a3a3a" stroke-width="0.9"/><text x="1266.50" y="647.74" font-size="18.50" font-family="'DejaVu Sans', sans-serif" text-anchor="start" fill="#262626">10</text><line x1="1255.20" y1="684.12" x2="1259.00" y2="684.12" stroke="#262626" stroke-width="1.00"/><text x="1266.50" y="690.87" font-size="18.50" font-family="'DejaVu Sans', sans-serif" text-anchor="start" fill="#262626">5</text><line x1="1255.20" y1="727.25" x2="1259.00" y2="727.25" stroke="#262626" stroke-width="1.00"/><text x="1266.50" y="733.99" font-size="18.50" font-family="'DejaVu Sans', sans-serif" text-anchor="start" fill="#262626">0</text><line x1="1255.20" y1="770.38" x2="1259.00" y2="770.38" stroke="#262626" stroke-width="1.00"/><text x="1266.50" y="777.12" font-size="18.50" font-family="'DejaVu Sans', sans-serif" text-anchor="start" fill="#262626">-5</text><line x1="1255.20" y1="813.50" x2="1259.00" y2="813.50" stroke="#262626" stroke-width="1.00"/><text x="1266.50" y="820.24" font-size="18.50" font-family="'DejaVu Sans', sans-serif" text-anchor="start" fill="#262626">-10</text><line x1="1255.20" y1="856.62" x2="1259.00" y2="856.62" stroke="#262626" stroke-width="1.00"/><text x="1266.50" y="863.37" font-size="18.50" font-family="'DejaVu Sans', sans-serif" text-anchor="start" fill="#262626">-15</text><line x1="1255.20" y1="899.75" x2="1259.00" y2="899.75" stroke="#262626" stroke-width="1.00"/><text x="1266.50" y="906.49" font-size="18.50" font-family="'DejaVu Sans', sans-serif" text-anchor="start" fill="#262626">-20</text><line x1="1255.20" y1="942.88" x2="1259.00" y2="942.88" stroke="#262626" stroke-width="1.00"/><text x="1266.50" y="949.62" font-size="18.50" font-family="'DejaVu Sans', sans-serif" text-anchor="start" fill="#262626">-25</text><text x="1266.50" y="992.74" font-size="18.50" font-family="'DejaVu Sans', sans-serif" text-anchor="start" fill="#262626">-30</text><text x="1232.00" y="630.00" font-size="20.50" font-family="'DejaVu Sans', sans-serif" text-anchor="start" fill="#262626">dB</text><rect x="1939.00" y="633.00" width="24.00" height="353.00" fill="url(#parula)" stroke="#3a3a3a" stroke-width="0.9"/><text x="1970.50" y="639.74" font-size="18.50" font-family="'DejaVu Sans', sans-serif" text-anchor="start" fill="#262626">10</text><line x1="1959.20" y1="677.12" x2="1963.00" y2="677.12" stroke="#262626" stroke-width="1.00"/><text x="1970.50" y="683.87" font-size="18.50" font-family="'DejaVu Sans', sans-serif" text-anchor="start" fill="#262626">5</text><line x1="1959.20" y1="721.25" x2="1963.00" y2="721.25" stroke="#262626" stroke-width="1.00"/><text x="1970.50" y="727.99" font-size="18.50" font-family="'DejaVu Sans', sans-serif" text-anchor="start" fill="#262626">0</text><line x1="1959.20" y1="765.38" x2="1963.00" y2="765.38" stroke="#262626" stroke-width="1.00"/><text x="1970.50" y="772.12" font-size="18.50" font-family="'DejaVu Sans', sans-serif" text-anchor="start" fill="#262626">-5</text><line x1="1959.20" y1="809.50" x2="1963.00" y2="809.50" stroke="#262626" stroke-width="1.00"/><text x="1970.50" y="816.24" font-size="18.50" font-family="'DejaVu Sans', sans-serif" text-anchor="start" fill="#262626">-10</text><line x1="1959.20" y1="853.62" x2="1963.00" y2="853.62" stroke="#262626" stroke-width="1.00"/><text x="1970.50" y="860.37" font-size="18.50" font-family="'DejaVu Sans', sans-serif" text-anchor="start" fill="#262626">-15</text><line x1="1959.20" y1="897.75" x2="1963.00" y2="897.75" stroke="#262626" stroke-width="1.00"/><text x="1970.50" y="904.49" font-size="18.50" font-family="'DejaVu Sans', sans-serif" text-anchor="start" fill="#262626">-20</text><line x1="1959.20" y1="941.88" x2="1963.00" y2="941.88" stroke="#262626" stroke-width="1.00"/><text x="1970.50" y="948.62" font-size="18.50" font-family="'DejaVu Sans', sans-serif" text-anchor="start" fill="#262626">-25</text><text x="1970.50" y="992.74" font-size="18.50" font-family="'DejaVu Sans', sans-serif" text-anchor="start" fill="#262626">-30</text><text x="1938.00" y="621.00" font-size="20.50" font-family="'DejaVu Sans', sans-serif" text-anchor="start" fill="#262626">dB</text><rect x="536.00" y="1245.00" width="25.00" height="389.00" fill="url(#parula)" stroke="#3a3a3a" stroke-width="0.9"/><text x="568.50" y="1251.74" font-size="18.50" font-family="'DejaVu Sans', sans-serif" text-anchor="start" fill="#262626">10</text><line x1="557.20" y1="1293.62" x2="561.00" y2="1293.62" stroke="#262626" stroke-width="1.00"/><text x="568.50" y="1300.37" font-size="18.50" font-family="'DejaVu Sans', sans-serif" text-anchor="start" fill="#262626">5</text><line x1="557.20" y1="1342.25" x2="561.00" y2="1342.25" stroke="#262626" stroke-width="1.00"/><text x="568.50" y="1348.99" font-size="18.50" font-family="'DejaVu Sans', sans-serif" text-anchor="start" fill="#262626">0</text><line x1="557.20" y1="1390.88" x2="561.00" y2="1390.88" stroke="#262626" stroke-width="1.00"/><text x="568.50" y="1397.62" font-size="18.50" font-family="'DejaVu Sans', sans-serif" text-anchor="start" fill="#262626">-5</text><line x1="557.20" y1="1439.50" x2="561.00" y2="1439.50" stroke="#262626" stroke-width="1.00"/><text x="568.50" y="1446.24" font-size="18.50" font-family="'DejaVu Sans', sans-serif" text-anchor="start" fill="#262626">-10</text><line x1="557.20" y1="1488.12" x2="561.00" y2="1488.12" stroke="#262626" stroke-width="1.00"/><text x="568.50" y="1494.87" font-size="18.50" font-family="'DejaVu Sans', sans-serif" text-anchor="start" fill="#262626">-15</text><line x1="557.20" y1="1536.75" x2="561.00" y2="1536.75" stroke="#262626" stroke-width="1.00"/><text x="568.50" y="1543.49" font-size="18.50" font-family="'DejaVu Sans', sans-serif" text-anchor="start" fill="#262626">-20</text><line x1="557.20" y1="1585.38" x2="561.00" y2="1585.38" stroke="#262626" stroke-width="1.00"/><text x="568.50" y="1592.12" font-size="18.50" font-family="'DejaVu Sans', sans-serif" text-anchor="start" fill="#262626">-25</text><text x="568.50" y="1640.74" font-size="18.50" font-family="'DejaVu Sans', sans-serif" text-anchor="start" fill="#262626">-30</text><text x="535.00" y="1233.00" font-size="20.50" font-family="'DejaVu Sans', sans-serif" text-anchor="start" fill="#262626">dB</text><rect x="1236.00" y="1245.00" width="25.00" height="389.00" fill="url(#parula)" stroke="#3a3a3a" stroke-width="0.9"/><text x="1268.50" y="1251.74" font-size="18.50" font-family="'DejaVu Sans', sans-serif" text-anchor="start" fill="#262626">10</text><line x1="1257.20" y1="1293.62" x2="1261.00" y2="1293.62" stroke="#262626" stroke-width="1.00"/><text x="1268.50" y="1300.37" font-size="18.50" font-family="'DejaVu Sans', sans-serif" text-anchor="start" fill="#262626">5</text><line x1="1257.20" y1="1342.25" x2="1261.00" y2="1342.25" stroke="#262626" stroke-width="1.00"/><text x="1268.50" y="1348.99" font-size="18.50" font-family="'DejaVu Sans', sans-serif" text-anchor="start" fill="#262626">0</text><line x1="1257.20" y1="1390.88" x2="1261.00" y2="1390.88" stroke="#262626" stroke-width="1.00"/><text x="1268.50" y="1397.62" font-size="18.50" font-family="'DejaVu Sans', sans-serif" text-anchor="start" fill="#262626">-5</text><line x1="1257.20" y1="1439.50" x2="1261.00" y2="1439.50" stroke="#262626" stroke-width="1.00"/><text x="1268.50" y="1446.24" font-size="18.50" font-family="'DejaVu Sans', sans-serif" text-anchor="start" fill="#262626">-10</text><line x1="1257.20" y1="1488.12" x2="1261.00" y2="1488.12" stroke="#262626" stroke-width="1.00"/><text x="1268.50" y="1494.87" font-size="18.50" font-family="'DejaVu Sans', sans-serif" text-anchor="start" fill="#262626">-15</text><line x1="1257.20" y1="1536.75" x2="1261.00" y2="1536.75" stroke="#262626" stroke-width="1.00"/><text x="1268.50" y="1543.49" font-size="18.50" font-family="'DejaVu Sans', sans-serif" text-anchor="start" fill="#262626">-20</text><line x1="1257.20" y1="1585.38" x2="1261.00" y2="1585.38" stroke="#262626" stroke-width="1.00"/><text x="1268.50" y="1592.12" font-size="18.50" font-family="'DejaVu Sans', sans-serif" text-anchor="start" fill="#262626">-25</text><text x="1268.50" y="1640.74" font-size="18.50" font-family="'DejaVu Sans', sans-serif" text-anchor="start" fill="#262626">-30</text><text x="1245.00" y="1240.00" font-size="20.50" font-family="'DejaVu Sans', sans-serif" text-anchor="start" fill="#262626">dB</text><rect x="1936.00" y="1245.00" width="25.00" height="389.00" fill="url(#parula)" stroke="#3a3a3a" stroke-width="0.9"/><text x="1968.50" y="1251.74" font-size="18.50" font-family="'DejaVu Sans', sans-serif" text-anchor="start" fill="#262626">10</text><line x1="1957.20" y1="1293.62" x2="1961.00" y2="1293.62" stroke="#262626" stroke-width="1.00"/><text x="1968.50" y="1300.37" font-size="18.50" font-family="'DejaVu Sans', sans-serif" text-anchor="start" fill="#262626">5</text><line x1="1957.20" y1="1342.25" x2="1961.00" y2="1342.25" stroke="#262626" stroke-width="1.00"/><text x="1968.50" y="1348.99" font-size="18.50" font-family="'DejaVu Sans', sans-serif" text-anchor="start" fill="#262626">0</text><line x1="1957.20" y1="1390.88" x2="1961.00" y2="1390.88" stroke="#262626" stroke-width="1.00"/><text x="1968.50" y="1397.62" font-size="18.50" font-family="'DejaVu Sans', sans-serif" text-anchor="start" fill="#262626">-5</text><line x1="1957.20" y1="1439.50" x2="1961.00" y2="1439.50" stroke="#262626" stroke-width="1.00"/><text x="1968.50" y="1446.24" font-size="18.50" font-family="'DejaVu Sans', sans-serif" text-anchor="start" fill="#262626">-10</text><line x1="1957.20" y1="1488.12" x2="1961.00" y2="1488.12" stroke="#262626" stroke-width="1.00"/><text x="1968.50" y="1494.87" font-size="18.50" font-family="'DejaVu Sans', sans-serif" text-anchor="start" fill="#262626">-15</text><line x1="1957.20" y1="1536.75" x2="1961.00" y2="1536.75" stroke="#262626" stroke-width="1.00"/><text x="1968.50" y="1543.49" font-size="18.50" font-family="'DejaVu Sans', sans-serif" text-anchor="start" fill="#262626">-20</text><line x1="1957.20" y1="1585.38" x2="1961.00" y2="1585.38" stroke="#262626" stroke-width="1.00"/><text x="1968.50" y="1592.12" font-size="18.50" font-family="'DejaVu Sans', sans-serif" text-anchor="start" fill="#262626">-25</text><text x="1968.50" y="1640.74" font-size="18.50" font-family="'DejaVu Sans', sans-serif" text-anchor="start" fill="#262626">-30</text><text x="1945.00" y="1240.00" font-size="20.50" font-family="'DejaVu Sans', sans-serif" text-anchor="start" fill="#262626">dB</text><rect x="534.00" y="1820.00" width="24.50" height="345.00" fill="url(#parula)" stroke="#3a3a3a" stroke-width="0.9"/><text x="566.00" y="1826.74" font-size="18.50" font-family="'DejaVu Sans', sans-serif" text-anchor="start" fill="#262626">10</text><line x1="554.70" y1="1863.12" x2="558.50" y2="1863.12" stroke="#262626" stroke-width="1.00"/><text x="566.00" y="1869.87" font-size="18.50" font-family="'DejaVu Sans', sans-serif" text-anchor="start" fill="#262626">5</text><line x1="554.70" y1="1906.25" x2="558.50" y2="1906.25" stroke="#262626" stroke-width="1.00"/><text x="566.00" y="1912.99" font-size="18.50" font-family="'DejaVu Sans', sans-serif" text-anchor="start" fill="#262626">0</text><line x1="554.70" y1="1949.38" x2="558.50" y2="1949.38" stroke="#262626" stroke-width="1.00"/><text x="566.00" y="1956.12" font-size="18.50" font-family="'DejaVu Sans', sans-serif" text-anchor="start" fill="#262626">-5</text><line x1="554.70" y1="1992.50" x2="558.50" y2="1992.50" stroke="#262626" stroke-width="1.00"/><text x="566.00" y="1999.24" font-size="18.50" font-family="'DejaVu Sans', sans-serif" text-anchor="start" fill="#262626">-10</text><line x1="554.70" y1="2035.62" x2="558.50" y2="2035.62" stroke="#262626" stroke-width="1.00"/><text x="566.00" y="2042.37" font-size="18.50" font-family="'DejaVu Sans', sans-serif" text-anchor="start" fill="#262626">-15</text><line x1="554.70" y1="2078.75" x2="558.50" y2="2078.75" stroke="#262626" stroke-width="1.00"/><text x="566.00" y="2085.49" font-size="18.50" font-family="'DejaVu Sans', sans-serif" text-anchor="start" fill="#262626">-20</text><line x1="554.70" y1="2121.88" x2="558.50" y2="2121.88" stroke="#262626" stroke-width="1.00"/><text x="566.00" y="2128.62" font-size="18.50" font-family="'DejaVu Sans', sans-serif" text-anchor="start" fill="#262626">-25</text><text x="566.00" y="2171.74" font-size="18.50" font-family="'DejaVu Sans', sans-serif" text-anchor="start" fill="#262626">-30</text><text x="534.00" y="1808.00" font-size="20.50" font-family="'DejaVu Sans', sans-serif" text-anchor="start" fill="#262626">dB</text><rect x="1239.00" y="1811.50" width="24.50" height="353.50" fill="url(#parula)" stroke="#3a3a3a" stroke-width="0.9"/><text x="1271.00" y="1818.24" font-size="18.50" font-family="'DejaVu Sans', sans-serif" text-anchor="start" fill="#262626">10</text><line x1="1259.70" y1="1855.69" x2="1263.50" y2="1855.69" stroke="#262626" stroke-width="1.00"/><text x="1271.00" y="1862.43" font-size="18.50" font-family="'DejaVu Sans', sans-serif" text-anchor="start" fill="#262626">5</text><line x1="1259.70" y1="1899.88" x2="1263.50" y2="1899.88" stroke="#262626" stroke-width="1.00"/><text x="1271.00" y="1906.62" font-size="18.50" font-family="'DejaVu Sans', sans-serif" text-anchor="start" fill="#262626">0</text><line x1="1259.70" y1="1944.06" x2="1263.50" y2="1944.06" stroke="#262626" stroke-width="1.00"/><text x="1271.00" y="1950.81" font-size="18.50" font-family="'DejaVu Sans', sans-serif" text-anchor="start" fill="#262626">-5</text><line x1="1259.70" y1="1988.25" x2="1263.50" y2="1988.25" stroke="#262626" stroke-width="1.00"/><text x="1271.00" y="1994.99" font-size="18.50" font-family="'DejaVu Sans', sans-serif" text-anchor="start" fill="#262626">-10</text><line x1="1259.70" y1="2032.44" x2="1263.50" y2="2032.44" stroke="#262626" stroke-width="1.00"/><text x="1271.00" y="2039.18" font-size="18.50" font-family="'DejaVu Sans', sans-serif" text-anchor="start" fill="#262626">-15</text><line x1="1259.70" y1="2076.62" x2="1263.50" y2="2076.62" stroke="#262626" stroke-width="1.00"/><text x="1271.00" y="2083.37" font-size="18.50" font-family="'DejaVu Sans', sans-serif" text-anchor="start" fill="#262626">-20</text><line x1="1259.70" y1="2120.81" x2="1263.50" y2="2120.81" stroke="#262626" stroke-width="1.00"/><text x="1271.00" y="2127.56" font-size="18.50" font-family="'DejaVu Sans', sans-serif" text-anchor="start" fill="#262626">-25</text><text x="1271.00" y="2171.74" font-size="18.50" font-family="'DejaVu Sans', sans-serif" text-anchor="start" fill="#262626">-30</text><text x="1237.00" y="1801.00" font-size="20.50" font-family="'DejaVu Sans', sans-serif" text-anchor="start" fill="#262626">dB</text><rect x="1939.00" y="1811.50" width="24.00" height="353.50" fill="url(#parula)" stroke="#3a3a3a" stroke-width="0.9"/><text x="1970.50" y="1818.24" font-size="18.50" font-family="'DejaVu Sans', sans-serif" text-anchor="start" fill="#262626">10</text><line x1="1959.20" y1="1855.69" x2="1963.00" y2="1855.69" stroke="#262626" stroke-width="1.00"/><text x="1970.50" y="1862.43" font-size="18.50" font-family="'DejaVu Sans', sans-serif" text-anchor="start" fill="#262626">5</text><line x1="1959.20" y1="1899.88" x2="1963.00" y2="1899.88" stroke="#262626" stroke-width="1.00"/><text x="1970.50" y="1906.62" font-size="18.50" font-family="'DejaVu Sans', sans-serif" text-anchor="start" fill="#262626">0</text><line x1="1959.20" y1="1944.06" x2="1963.00" y2="1944.06" stroke="#262626" stroke-width="1.00"/><text x="1970.50" y="1950.81" font-size="18.50" font-family="'DejaVu Sans', sans-serif" text-anchor="start" fill="#262626">-5</text><line x1="1959.20" y1="1988.25" x2="1963.00" y2="1988.25" stroke="#262626" stroke-width="1.00"/><text x="1970.50" y="1994.99" font-size="18.50" font-family="'DejaVu Sans', sans-serif" text-anchor="start" fill="#262626">-10</text><line x1="1959.20" y1="2032.44" x2="1963.00" y2="2032.44" stroke="#262626" stroke-width="1.00"/><text x="1970.50" y="2039.18" font-size="18.50" font-family="'DejaVu Sans', sans-serif" text-anchor="start" fill="#262626">-15</text><line x1="1959.20" y1="2076.62" x2="1963.00" y2="2076.62" stroke="#262626" stroke-width="1.00"/><text x="1970.50" y="2083.37" font-size="18.50" font-family="'DejaVu Sans', sans-serif" text-anchor="start" fill="#262626">-20</text><line x1="1959.20" y1="2120.81" x2="1963.00" y2="2120.81" stroke="#262626" stroke-width="1.00"/><text x="1970.50" y="2127.56" font-size="18.50" font-family="'DejaVu Sans', sans-serif" text-anchor="start" fill="#262626">-25</text><text x="1970.50" y="2171.74" font-size="18.50" font-family="'DejaVu Sans', sans-serif" text-anchor="start" fill="#262626">-30</text><text x="1938.00" y="1801.00" font-size="20.50" font-family="'DejaVu Sans', sans-serif" text-anchor="start" fill="#262626">dB</text><text x="58.00" y="119.00" font-size="32.00" font-family="'Liberation Sans', Arial, sans-serif" text-anchor="start">Spine</text><text x="399.80" y="149.10" font-size="32.00" font-family="'Liberation Sans', Arial, sans-serif" text-anchor="start">Uterus</text><text x="388.40" y="490.00" font-size="32.00" font-family="'Liberation Sans', Arial, sans-serif" text-anchor="start">Abdomen</text><text x="102.50" y="599.50" font-size="32.00" font-family="'Liberation Sans', Arial, sans-serif" text-anchor="start">Spine</text><text x="412.60" y="607.70" font-size="32.00" font-family="'Liberation Sans', Arial, sans-serif" text-anchor="start">Uterus</text><text x="427.90" y="1079.00" font-size="32.00" font-family="'Liberation Sans', Arial, sans-serif" text-anchor="start">Abdomen</text><text x="436.50" y="2261.70" font-size="46.00" font-family="'Liberation Serif', 'Times New Roman', serif" text-anchor="start">Abdomen</text><text x="571.50" y="23.00" font-size="32.00" font-family="'Liberation Sans', Arial, sans-serif" text-anchor="start" textLength="903.3" lengthAdjust="spacingAndGlyphs">Low attenuation in uterus corresponding to that of amniotic fluid</text><text x="564.50" y="1202.00" font-size="32.00" font-family="'Liberation Sans', Arial, sans-serif" text-anchor="start" textLength="917.6" lengthAdjust="spacingAndGlyphs">High attenuation in uterus corresponding to that of muscle tissue</text><text x="324.50" y="530.75" font-size="32.00" font-family="'Liberation Sans', Arial, sans-serif" text-anchor="middle">5kHz</text><text x="1024.60" y="538.50" font-size="32.00" font-family="'Liberation Sans', Arial, sans-serif" text-anchor="middle">10 kHz</text><text x="1721.50" y="538.50" font-size="32.00" font-family="'Liberation Sans', Arial, sans-serif" text-anchor="middle">20 kHz</text><text x="323.80" y="1090.70" font-size="32.00" font-family="'Liberation Sans', Arial, sans-serif" text-anchor="middle">5 kHz</text><text x="1024.20" y="1090.60" font-size="32.00" font-family="'Liberation Sans', Arial, sans-serif" text-anchor="middle">10 kHz</text><text x="1721.80" y="1083.00" font-size="32.00" font-family="'Liberation Sans', Arial, sans-serif" text-anchor="middle">20 kHz</text><text x="323.80" y="1717.00" font-size="32.00" font-family="'Liberation Sans', Arial, sans-serif" text-anchor="middle">5 kHz</text><text x="1024.20" y="1717.00" font-size="32.00" font-family="'Liberation Sans', Arial, sans-serif" text-anchor="middle">10 kHz</text><text x="1721.80" y="1717.00" font-size="32.00" font-family="'Liberation Sans', Arial, sans-serif" text-anchor="middle">20 kHz</text><text x="323.80" y="2269.60" font-size="32.00" font-family="'Liberation Sans', Arial, sans-serif" text-anchor="middle">5 kHz</text><text x="1024.20" y="2261.80" font-size="32.00" font-family="'Liberation Sans', Arial, sans-serif" text-anchor="middle">10 kHz</text><text x="1721.80" y="2261.80" font-size="32.00" font-family="'Liberation Sans', Arial, sans-serif" text-anchor="middle">20 kHz</text><text x="0.00" y="567.50" font-size="32.00" font-family="'Liberation Sans', Arial, sans-serif" text-anchor="start" font-weight="bold">A</text><text x="699.00" y="575.00" font-size="32.00" font-family="'Liberation Sans', Arial, sans-serif" text-anchor="start" font-weight="bold">B</text><text x="1398.00" y="575.00" font-size="32.00" font-family="'Liberation Sans', Arial, sans-serif" text-anchor="start" font-weight="bold">C</text><text x="0.00" y="1127.50" font-size="32.00" font-family="'Liberation Sans', Arial, sans-serif" text-anchor="start" font-weight="bold">D</text><text x="699.00" y="1127.50" font-size="32.00" font-family="'Liberation Sans', Arial, sans-serif" text-anchor="start" font-weight="bold">E</text><text x="1398.00" y="1120.00" font-size="32.00" font-family="'Liberation Sans', Arial, sans-serif" text-anchor="start" font-weight="bold">F</text><text x="0.00" y="1754.00" font-size="32.00" font-family="'Liberation Sans', Arial, sans-serif" text-anchor="start" font-weight="bold">G</text><text x="699.00" y="1754.00" font-size="32.00" font-family="'Liberation Sans', Arial, sans-serif" text-anchor="start" font-weight="bold">H</text><text x="1398.00" y="1754.00" font-size="32.00" font-family="'Liberation Sans', Arial, sans-serif" text-anchor="start" font-weight="bold">I</text><text x="0.00" y="2306.30" font-size="32.00" font-family="'Liberation Sans', Arial, sans-serif" text-anchor="start" font-weight="bold">J</text><text x="699.00" y="2299.00" font-size="32.00" font-family="'Liberation Sans', Arial, sans-serif" text-anchor="start" font-weight="bold">K</text><text x="1398.00" y="2299.00" font-size="32.00" font-family="'Liberation Sans', Arial, sans-serif" text-anchor="start" font-weight="bold">L</text></g>
<g><line x1="146.0" y1="120.4" x2="274.0" y2="229.0" stroke="#000" stroke-width="1.5" stroke-dasharray="2.4,0.9"/><line x1="393.9" y1="145.2" x2="330.0" y2="251.0" stroke="#000" stroke-width="1.5" stroke-dasharray="2.4,0.9"/><line x1="327.5" y1="305.0" x2="392.9" y2="459.5" stroke="#000" stroke-width="1.5" stroke-dasharray="2.4,0.9"/><line x1="190.4" y1="598.5" x2="299.0" y2="802.5" stroke="#000" stroke-width="1.5" stroke-dasharray="2.4,0.9"/><line x1="415.0" y1="617.5" x2="362.5" y2="782.5" stroke="#000" stroke-width="1.5" stroke-dasharray="2.4,0.9"/><line x1="431.8" y1="1047.8" x2="347.5" y2="880.0" stroke="#000" stroke-width="1.5" stroke-dasharray="2.4,0.9"/></g>
</svg>
</div>
<script>
(function(){
var PAR = [[0.2431, 0.149, 0.6588], [0.2491, 0.159, 0.6887], [0.2551, 0.1689, 0.7186], [0.2611, 0.1789, 0.7485], [0.2669, 0.1895, 0.7782], [0.2698, 0.2094, 0.8061], [0.2728, 0.2293, 0.834], [0.2758, 0.2492, 0.8619], [0.2778, 0.27, 0.8886], [0.2728, 0.2969, 0.9076], [0.2678, 0.3238, 0.9265], [0.2629, 0.3507, 0.9454], [0.2558, 0.3768, 0.9613], [0.2399, 0.3998, 0.9643], [0.224, 0.4227, 0.9673], [0.208, 0.4456, 0.9703], [0.1941, 0.467, 0.9696], [0.1861, 0.4839, 0.9576], [0.1782, 0.5008, 0.9457], [0.1702, 0.5178, 0.9337], [0.1619, 0.5347, 0.9221], [0.1529, 0.5516, 0.9111], [0.144, 0.5686, 0.9002], [0.135, 0.5855, 0.8892], [0.1238, 0.6028, 0.8775], [0.1089, 0.6207, 0.8646], [0.0939, 0.6387, 0.8516], [0.079, 0.6566, 0.8387], [0.0662, 0.6728, 0.8253], [0.0563, 0.6867, 0.8113], [0.0463, 0.7007, 0.7974], [0.0364, 0.7146, 0.7834], [0.0498, 0.728, 0.7575], [0.0866, 0.741, 0.7197], [0.1235, 0.7539, 0.6819], [0.1603, 0.7669, 0.644], [0.2045, 0.7748, 0.5994], [0.2543, 0.7788, 0.5496], [0.3041, 0.7828, 0.4998], [0.3539, 0.7867, 0.45], [0.413, 0.7845, 0.4015], [0.4777, 0.7785, 0.3537], [0.5425, 0.7725, 0.3059], [0.6072, 0.7666, 0.2581], [0.6583, 0.7558, 0.2294], [0.7031, 0.7429, 0.2095], [0.7479, 0.7299, 0.1896], [0.7927, 0.717, 0.1697], [0.8316, 0.7107, 0.1782], [0.8684, 0.7068, 0.1961], [0.9053, 0.7028, 0.214], [0.9421, 0.6988, 0.2319], [0.9571, 0.7094, 0.2288], [0.9671, 0.7233, 0.2209], [0.977, 0.7373, 0.2129], [0.987, 0.7512, 0.2049], [0.983, 0.7756, 0.1917], [0.977, 0.8015, 0.1778], [0.9711, 0.8274, 0.1638], [0.9651, 0.8533, 0.1499], [0.9666, 0.8848, 0.1322], [0.9686, 0.9167, 0.1143], [0.9706, 0.9485, 0.0964], [0.9725, 0.9804, 0.0784]];
var ABD = [[0.2023, 0.3461], [0.2309, 0.3426], [0.2645, 0.3301], [0.3143, 0.2981], [0.3649, 0.2661], [0.3985, 0.2424], [0.4203, 0.219], [0.4305, 0.1937], [0.4321, 0.1768], [0.4287, 0.1515], [0.4152, 0.1263], [0.3899, 0.1045], [0.3563, 0.0843], [0.3143, 0.0623], [0.281, 0.044], [0.2443, 0.0321], [0.2056, 0.0404], [0.1771, 0.059], [0.1569, 0.0843], [0.1442, 0.1179], [0.1393, 0.1515], [0.1383, 0.1852], [0.1358, 0.219], [0.1349, 0.2527], [0.1383, 0.2863], [0.1483, 0.3148], [0.1687, 0.3352]], UT = [[0.2941, 0.2559], [0.3226, 0.2577], [0.3445, 0.251], [0.3681, 0.2325], [0.3899, 0.2088], [0.4011, 0.1852], [0.3985, 0.1601], [0.3883, 0.1381], [0.3716, 0.1214], [0.3512, 0.1096], [0.3277, 0.1079], [0.3076, 0.1214], [0.289, 0.1381], [0.2721, 0.1601], [0.2654, 0.1852], [0.2672, 0.2156], [0.2756, 0.2357]];
var DOTS = [[0.2111, 0.336], [0.2354, 0.3313], [0.2607, 0.3219], [0.2818, 0.3083], [0.3045, 0.2937], [0.3274, 0.2792], [0.3502, 0.2648], [0.3722, 0.2499], [0.3927, 0.2354], [0.4111, 0.2157], [0.4206, 0.1941], [0.4224, 0.1721], [0.4173, 0.1492], [0.4049, 0.1293], [0.3845, 0.1117], [0.3626, 0.0986], [0.3395, 0.0857], [0.3156, 0.0732], [0.2917, 0.0602], [0.2689, 0.0495], [0.2432, 0.0412], [0.2215, 0.0462], [0.1999, 0.0548], [0.1806, 0.069], [0.1652, 0.0877], [0.1557, 0.1129], [0.1505, 0.1373], [0.148, 0.1631], [0.1469, 0.1905], [0.1449, 0.2174], [0.1441, 0.244], [0.1457, 0.2697], [0.1505, 0.2939], [0.1604, 0.3141], [0.1774, 0.3286], [0.2031, 0.3369]];
var PLANES = {"A": [103.85, 254.8, 191.448, 69.123, 177.4, -74.5], "B": [809.25, 259.03, 188.374, 68.571, 171.0, -74.0], "C": [1508.35, 258.52, 189.163, 70.148, 171.0, -76.0], "G": [109.35, 1437.03, 189.163, 68.571, 171.0, -73.0], "H": [807.46, 1436.76, 189.951, 70.936, 171.0, -75.0], "I": [1508.35, 1436.52, 189.163, 70.148, 171.0, -75.0]};
var HEAT2 = {"D": [129, 634, 475, 992], "E": [830, 641, 1175, 986], "F": [1525, 632.5, 1879, 986], "J": [130, 1820, 475.5, 2165], "K": [825, 1811.5, 1179, 2165], "L": [1525, 1811.5, 1879, 2165]};
var cv = document.getElementById('cv');
if (!cv || !cv.getContext) return;
var ctx = cv.getContext('2d');
function cmap(db, out) {
  var t = (db + 30) / 40; if (t < 0) t = 0; if (t > 1) t = 1;
  var f = t * 63, i = Math.floor(f); if (i > 62) i = 62; var a = f - i;
  var c0 = PAR[i], c1 = PAR[i + 1];
  out[0] += (c0[0] + (c1[0] - c0[0]) * a) * 255;
  out[1] += (c0[1] + (c1[1] - c0[1]) * a) * 255;
  out[2] += (c0[2] + (c1[2] - c0[2]) * a) * 255;
}
function pip(poly, x, y) {
  var c = false, n = poly.length;
  for (var i = 0, j = n - 1; i < n; j = i++) {
    var xi = poly[i][0], yi = poly[i][1], xj = poly[j][0], yj = poly[j][1];
    if (((yi > y) != (yj > y)) && (x < (xj - xi) * (y - yi) / (yj - yi) + xi)) c = !c;
  }
  return c;
}
function dseg(poly, x, y) {
  var m = 1e9, n = poly.length;
  for (var i = 0, j = n - 1; i < n; j = i++) {
    var ax = poly[j][0], ay = poly[j][1], bx = poly[i][0], by = poly[i][1];
    var vx = bx - ax, vy = by - ay, wx = x - ax, wy = y - ay;
    var t = (vx * wx + vy * wy) / (vx * vx + vy * vy); if (t < 0) t = 0; if (t > 1) t = 1;
    var dx = wx - t * vx, dy = wy - t * vy, d = dx * dx + dy * dy;
    if (d < m) m = d;
  }
  return Math.sqrt(m);
}
var BASE = {sbk:0.85, xs:0.15, yc:0.195, eu:0.2, ph:0.0, ph2:3.14, off:0.0, q:1.0, qn:1.0, rc:0.02, amp:1.3};
function mk(o) { var r = {}; for (var k in BASE) r[k] = BASE[k]; for (var k2 in o) r[k2] = o[k2]; return r; }
var P5 = {lam:0.070, N:360, step:0.008, amp:1.6, w0:0.10, wg:0.38, eu:0.3, ns:4.5, shA:0.5, m:0.25, shD:0.3, nb:0.3, nbd:0.15, ns2:5, st:0.8, sd:0.09, spA:1.0, sce:0.7};
var P10 = {lam:0.035, N:460, step:0.007, w0:0.10, wg:0.30, eu:0.22, ns:7, shA:0.60, m:0.3, shD:0.2, nb:0.22, nbd:0.15, ns2:9, st:0.86, sd:0.5, spA:1.0, sce:0.65};
var P20 = {lam:0.0175, N:720, step:0.006, w0:0.15, wg:0.07, eu:0.2, ns:3, shA:0.80, m:0.1, shD:0.0, nb:0.12, nbd:0.25, ns2:22, st:0.35, sd:0.16, spA:0.92, sce:0.55};
function mk2(a, b) { var r = {}; for (var k in a) r[k] = a[k]; for (var k2 in b) r[k2] = b[k2]; return mk(r); }
var PS = {
  '5L':  mk2(P5,  {in0:-28, igx:9, ut0:-19, ut1:-21.5, blobs:1, dots:0}),
  '10L': mk2(P10, {in0:-20, igx:7, ut0:-7, ut1:-12, blobs:0, dots:1}),
  '20L': mk2(P20, {in0:-25.5, igx:4, ut0:-9, ut1:-14, blobs:0, dots:1}),
  '5H':  mk2(P5,  {in0:-28, igx:9, ut0:-19.5, ut1:-22, blobs:1, dots:0}),
  '10H': mk2(P10, {in0:-23, igx:6, ut0:-9, ut1:-14, blobs:0, dots:1}),
  '20H': mk2(P20, {in0:-28, igx:3, ut0:-16, ut1:-20, blobs:0, dots:1})
};
// ---- scattered field grids (physical-optics style sources on the lit surface) ----
function litSources(step) {
  var n = ABD.length, pts = [], cx = 0, cy = 0;
  for (var i = 0; i < n; i++) { cx += ABD[i][0]; cy += ABD[i][1]; }
  cx /= n; cy /= n;
  for (var i2 = 0; i2 < n; i2++) {
    var a = ABD[i2], b = ABD[(i2 + 1) % n];
    var L = Math.sqrt((b[0] - a[0]) * (b[0] - a[0]) + (b[1] - a[1]) * (b[1] - a[1]));
    var m = Math.max(1, Math.floor(L / step));
    var tx = (b[0] - a[0]) / L, ty = (b[1] - a[1]) / L, nx = ty, ny = -tx;
    var mxp = (a[0] + b[0]) / 2 - cx, myp = (a[1] + b[1]) / 2 - cy;
    if (nx * mxp + ny * myp < 0) { nx = -nx; ny = -ny; }
    for (var t = 0; t < m; t++) {
      var f = t / m;
      if (nx > 0.05) pts.push([a[0] + f * (b[0] - a[0]), a[1] + f * (b[1] - a[1]), nx, ny, L / m]);
    }
  }
  return pts;
}
var GRIDS = {};
function scatGrid(P) {
  var key = P.lam + '_' + P.N;
  if (GRIDS[key]) return GRIDS[key];
  var N = P.N, k = 6.283185307 / P.lam, src = litSources(P.step), ns = src.length;
  var re = new Float32Array(N * N), im = new Float32Array(N * N);
  var sc = P.amp / Math.sqrt(P.lam);
  for (var j = 0; j < N; j++) {
    var y = 0.6 - (j + 0.5) / N * 0.8;
    for (var i = 0; i < N; i++) {
      var x = -0.2 + (i + 0.5) / N * 0.8, ar = 0, ai = 0;
      for (var s2 = 0; s2 < ns; s2++) {
        var S = src[s2], dx = x - S[0], dy = y - S[1];
        var r = Math.sqrt(dx * dx + dy * dy) + 1e-6;
        var c = (dx * S[2] + dy * S[3]) / r;
        if (c <= 0) continue;
        var w = c * S[2] * S[4] / Math.sqrt(r + P.rc);
        var ph = k * (r + dx);
        ar += w * Math.cos(ph); ai += w * Math.sin(ph);
      }
      re[j * N + i] = ar * sc; im[j * N + i] = ai * sc;
    }
  }
  GRIDS[key] = [re, im, N];
  return GRIDS[key];
}
var SU = [0, 0];
function sampleU(G, x, y) {
  var N = G[2], fx = (x + 0.2) / 0.8 * N - 0.5, fy = (0.6 - y) / 0.8 * N - 0.5;
  if (fx < 0) fx = 0; if (fy < 0) fy = 0; if (fx > N - 1.001) fx = N - 1.001; if (fy > N - 1.001) fy = N - 1.001;
  var i = Math.floor(fx), j = Math.floor(fy), a = fx - i, b = fy - j, o = j * N + i;
  var re = G[0], im = G[1];
  SU[0] = (re[o] * (1 - a) + re[o + 1] * a) * (1 - b) + (re[o + N] * (1 - a) + re[o + N + 1] * a) * b;
  SU[1] = (im[o] * (1 - a) + im[o + 1] * a) * (1 - b) + (im[o + N] * (1 - a) + im[o + N + 1] * a) * b;
}
var BLOBS = [[0.215,0.31,0.022],[0.20,0.285,0.02],[0.28,0.275,0.012],[0.345,0.245,0.01],[0.345,0.12,0.01],
             [0.18,0.115,0.016],[0.225,0.092,0.014],[0.262,0.09,0.012],[0.295,0.10,0.01],[0.152,0.26,0.01],[0.152,0.15,0.012]];
function interior(x, y, P) {
  if (pip(UT, x, y)) {
    var ax = (x - 0.337) / 0.068, ay = (y - 0.183) / 0.075;
    var du = ax * ax + ay * ay; if (du > 1) du = 1;
    return P.ut0 + (P.ut1 - P.ut0) * du;
  }
  var v = P.in0 + P.igx * Math.max(0, Math.min(1, (x - 0.14) / 0.29)) + 0.8 * Math.sin(x * 47 + y * 31);
  if (P.blobs) {
    for (var i = 0; i < BLOBS.length; i++) {
      var b = BLOBS[i], dx = x - b[0], dy = y - b[1], d2 = (dx * dx + dy * dy) / (b[2] * b[2]);
      if (d2 < 4) v -= 4 * Math.exp(-d2);
    }
  }
  if (P.dots) {
    for (var j = 0; j < DOTS.length; j++) {
      var e = DOTS[j], ex = x - e[0], ey = y - e[1], e2 = (ex * ex + ey * ey) / 0.000016;
      if (e2 < 6) v -= 9 * Math.exp(-e2);
    }
  }
  return v;
}
function field(x, y, P, noin) {
  if (!noin && x > 0.12 && x < 0.45 && y > 0.03 && y < 0.36 && pip(ABD, x, y)) return interior(x, y, P);
  var G = scatGrid(P);
  sampleU(G, x, y);
  var A = 1, env = 0;
  if (x < P.xs + 0.06) {
    var d = P.xs - x; if (d < 0) d = 0;
    var w = P.w0 + P.wg * d;
    var u = (y - P.yc) / w;
    var ramp = (P.xs - x) / 0.07 + 0.85; if (ramp > 1) ramp = 1; if (ramp < 0) ramp = 0;
    env = ramp / (1 + Math.exp((Math.abs(u) - 1) / P.eu));
    var mod = Math.cos(Math.PI * P.ns * u + P.ph);
    var depth = P.shA * env * (1 + P.m * mod) * Math.exp(-d * P.shD) + P.nb * env * Math.exp(-d / P.nbd);
    var mod2 = Math.cos(Math.PI * P.ns2 * u + P.ph2);
    var q = (mod2 - P.st) / (1 - P.st); if (q < 0) q = 0;
    var sp = env * Math.exp(-d / P.sd) * q * q;
    if (P.sce) {
      if (P.lam < 0.02) sp *= Math.exp(-(u / P.sce) * (u / P.sce)) * (0.5 + 0.5 * Math.cos(9.7 * u + 1.3)) * Math.exp(-d / (0.05 + 0.2 * (0.5 + 0.5 * Math.cos(13.1 * u)))) * 4;
      else sp *= Math.exp(-(u / P.sce) * (u / P.sce));
      if (sp > 1) sp = 1;
    }
    A = 1 - depth; if (A < 0.02) A = 0.02;
    A *= (1 - P.spA * sp);
  }
  var f = 1 - P.sbk * env;
  var re = A + SU[0] * f, im = SU[1] * f;
  return 10 * Math.log(re * re + im * im + 1e-8) / Math.LN10 + P.off;
}
var PMAP2 = {D:'5L', E:'10L', F:'20L', J:'5H', K:'10H', L:'20H'};
var PMAP3 = {A:'5L', B:'10L', C:'20L', G:'5H', H:'10H', I:'20H'};
var col = [0, 0, 0];
function draw2(key) {
  var hm = HEAT2[key], P = PS[PMAP2[key]];
  var x0 = Math.round(hm[0]), y0 = Math.round(hm[1]), x1 = Math.round(hm[2]), y1 = Math.round(hm[3]);
  var W = x1 - x0, H = y1 - y0;
  var img = ctx.createImageData(W, H), dat = img.data;
  var ss = (P.lam < 0.03) ? 3 : 2;
  for (var j = 0; j < H; j++) {
    for (var i = 0; i < W; i++) {
      col[0] = col[1] = col[2] = 0;
      for (var a = 0; a < ss; a++) for (var b = 0; b < ss; b++) {
        var px = i + (a + 0.5) / ss, py = j + (b + 0.5) / ss;
        cmap(field(-0.2 + px / W * 0.8, 0.6 - py / H * 0.8, P), col);
      }
      var o = (j * W + i) * 4, n = ss * ss;
      dat[o] = col[0] / n; dat[o + 1] = col[1] / n; dat[o + 2] = col[2] / n; dat[o + 3] = 255;
    }
  }
  ctx.putImageData(img, x0, y0);
}
function draw3(key) {
  var pl = PLANES[key], P = PS[PMAP3[key]];
  var Lx = pl[0], Ly = pl[1], bx = pl[2], by = pl[3], tx = pl[4], ty = pl[5];
  var det = bx * ty - by * tx;
  var xs = [Lx, Lx + bx, Lx + tx, Lx + bx + tx], ys = [Ly, Ly + by, Ly + ty, Ly + by + ty];
  var X0 = Math.floor(Math.min.apply(null, xs)), X1 = Math.ceil(Math.max.apply(null, xs));
  var Y0 = Math.floor(Math.min.apply(null, ys)), Y1 = Math.ceil(Math.max.apply(null, ys));
  var W = X1 - X0, H = Y1 - Y0;
  var img = ctx.createImageData(W, H), dat = img.data;
  var ss = 3;
  for (var j = 0; j < H; j++) {
    for (var i = 0; i < W; i++) {
      col[0] = col[1] = col[2] = 0; var cnt = 0;
      for (var a = 0; a < ss; a++) for (var b = 0; b < ss; b++) {
        var px = X0 + i + (a + 0.5) / ss - Lx, py = Y0 + j + (b + 0.5) / ss - Ly;
        var u = (px * ty - py * tx) / det, v = (bx * py - by * px) / det;
        if (u < 0 || u > 1 || v < 0 || v > 1) continue;
        cnt++;
        cmap(field(-0.2 + 0.8 * u, -0.2 + 0.8 * v, P, 1), col);
      }
      var o = (j * W + i) * 4;
      if (cnt) {
        var wf = 0.10;
        dat[o] = col[0] / cnt * (1 - wf) + 255 * wf; dat[o + 1] = col[1] / cnt * (1 - wf) + 255 * wf; dat[o + 2] = col[2] / cnt * (1 - wf) + 255 * wf;
        dat[o + 3] = Math.round(255 * cnt / (ss * ss));
      }
    }
  }
  var tmp = document.createElement('canvas'); tmp.width = W; tmp.height = H;
  tmp.getContext('2d').putImageData(img, 0, 0);
  ctx.drawImage(tmp, X0, Y0);
}
for (var k in HEAT2) draw2(k);
for (var k2 in PLANES) draw3(k2);
})();

</script>
</body></html>
